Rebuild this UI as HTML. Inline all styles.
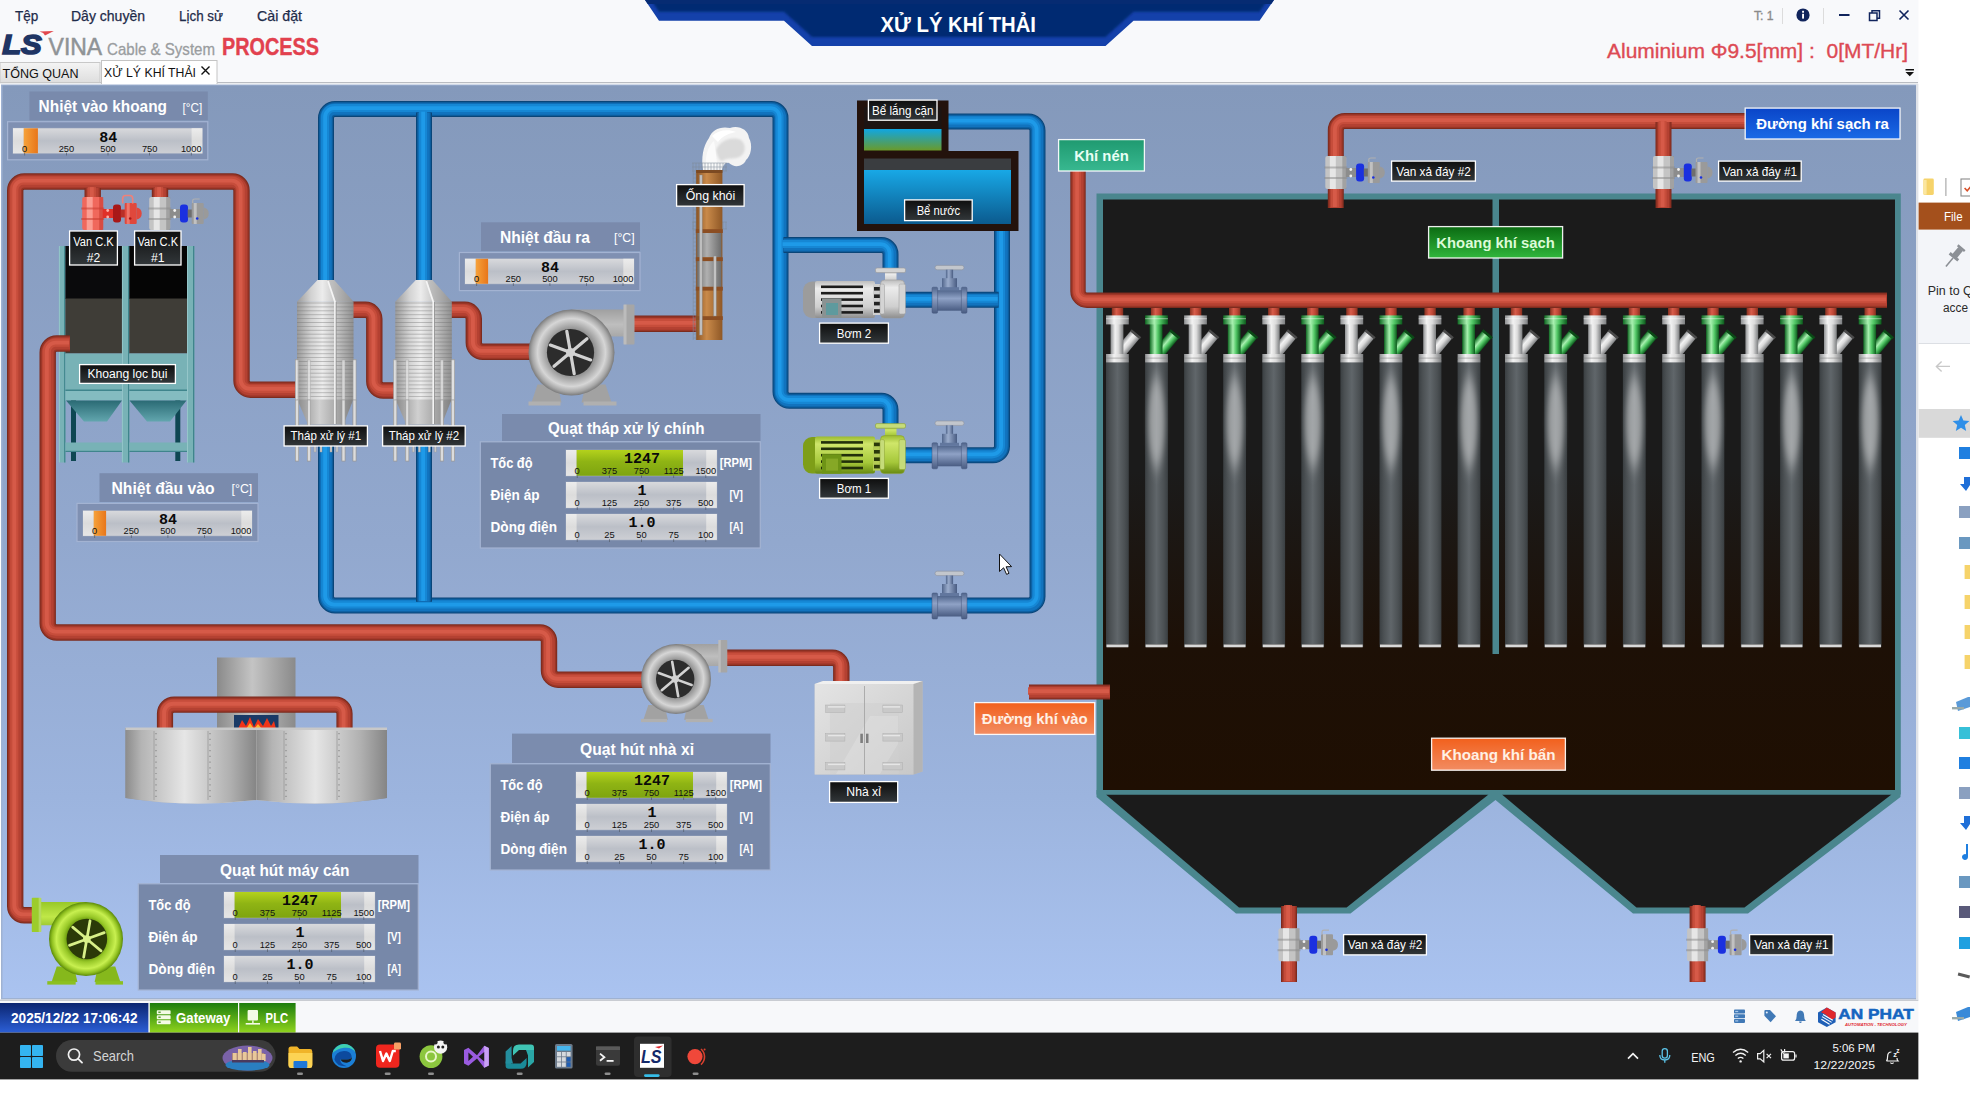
<!DOCTYPE html>
<html lang="vi"><head><meta charset="utf-8"><title>XỬ LÝ KHÍ THẢI</title>
<style>
html,body{margin:0;padding:0;background:#ffffff;width:1970px;height:1096px;overflow:hidden}
svg{display:block;position:absolute;left:0;top:0}
text{font-family:"Liberation Sans",sans-serif}
.m{font-family:"Liberation Mono",monospace;font-weight:bold}
.b{font-weight:bold}
</style></head><body>
<svg width="1970" height="1096" viewBox="0 0 1970 1096">
<defs>

<linearGradient id="gBg" x1="0" y1="0" x2="0" y2="1"><stop offset="0" stop-color="#8499bb"/><stop offset="0.5" stop-color="#92a8ce"/><stop offset="0.78" stop-color="#9cb4de"/><stop offset="1" stop-color="#aac3f0"/></linearGradient>
<linearGradient id="gLbl" x1="0" y1="0" x2="0" y2="1"><stop offset="0" stop-color="#0e0e0e"/><stop offset="1" stop-color="#32373a"/></linearGradient>
<linearGradient id="gSilver" x1="0" y1="0" x2="1" y2="0"><stop offset="0" stop-color="#9a9a9a"/><stop offset="0.25" stop-color="#d2d2d2"/><stop offset="0.45" stop-color="#ececec"/><stop offset="0.7" stop-color="#c4c4c4"/><stop offset="1" stop-color="#8f8f8f"/></linearGradient>
<linearGradient id="gSilverD" x1="0" y1="0" x2="1" y2="0"><stop offset="0" stop-color="#8a8a8a"/><stop offset="0.4" stop-color="#d0d0d0"/><stop offset="1" stop-color="#808080"/></linearGradient>
<linearGradient id="gGauge" x1="0" y1="0" x2="0" y2="1"><stop offset="0" stop-color="#d8d9dc"/><stop offset="0.5" stop-color="#bbbfc7"/><stop offset="1" stop-color="#cdcfd4"/></linearGradient>
<linearGradient id="gGaugeCap" x1="0" y1="0" x2="0" y2="1"><stop offset="0" stop-color="#ececec"/><stop offset="0.5" stop-color="#dcdcdc"/><stop offset="1" stop-color="#e6e6e6"/></linearGradient>
<linearGradient id="gGreenBar" x1="0" y1="0" x2="0" y2="1"><stop offset="0" stop-color="#b4d21c"/><stop offset="0.45" stop-color="#8fb414"/><stop offset="1" stop-color="#7ea410"/></linearGradient>
<linearGradient id="gOrangeBar" x1="0" y1="0" x2="1" y2="0"><stop offset="0" stop-color="#f6a23a"/><stop offset="1" stop-color="#e8761a"/></linearGradient>
<linearGradient id="gBag" x1="0" y1="0" x2="1" y2="0"><stop offset="0" stop-color="#3a3f42"/><stop offset="0.18" stop-color="#4b5053"/><stop offset="0.5" stop-color="#60666a"/><stop offset="0.82" stop-color="#4b5053"/><stop offset="1" stop-color="#3a3f42"/></linearGradient>
<linearGradient id="gBagV" x1="0" y1="0" x2="0" y2="1"><stop offset="0" stop-color="#fff" stop-opacity="0"/><stop offset="0.12" stop-color="#fff" stop-opacity="0.55"/><stop offset="0.45" stop-color="#fff" stop-opacity="0.75"/><stop offset="0.85" stop-color="#fff" stop-opacity="0.25"/><stop offset="1" stop-color="#fff" stop-opacity="0"/></linearGradient>
<linearGradient id="gBagH" x1="0" y1="0" x2="1" y2="0"><stop offset="0" stop-color="#000" stop-opacity="1"/><stop offset="0.5" stop-color="#000" stop-opacity="0"/><stop offset="1" stop-color="#000" stop-opacity="1"/></linearGradient>
<linearGradient id="gPipeW" x1="0" y1="0" x2="1" y2="0"><stop offset="0" stop-color="#8e9092"/><stop offset="0.35" stop-color="#f2f2f2"/><stop offset="0.6" stop-color="#dcdcdc"/><stop offset="1" stop-color="#7c7e80"/></linearGradient>
<linearGradient id="gPipeG" x1="0" y1="0" x2="1" y2="0"><stop offset="0" stop-color="#0f6a22"/><stop offset="0.4" stop-color="#a8f0b0"/><stop offset="0.65" stop-color="#52c866"/><stop offset="1" stop-color="#0c5a1c"/></linearGradient>
<linearGradient id="gRedV" x1="0" y1="0" x2="1" y2="0"><stop offset="0" stop-color="#86301f"/><stop offset="0.4" stop-color="#d85c4a"/><stop offset="0.7" stop-color="#bf4736"/><stop offset="1" stop-color="#86301f"/></linearGradient>
<linearGradient id="gBox" x1="0" y1="0" x2="0" y2="1"><stop offset="0" stop-color="#1b1b1b"/><stop offset="0.46" stop-color="#1b1b1b"/><stop offset="0.76" stop-color="#1d1006"/><stop offset="1" stop-color="#1f0f02"/></linearGradient>
<linearGradient id="gBlueLbl" x1="0" y1="0" x2="0" y2="1"><stop offset="0" stop-color="#0a45c8"/><stop offset="1" stop-color="#1a6ae6"/></linearGradient>
<linearGradient id="gGreenLbl" x1="0" y1="0" x2="0" y2="1"><stop offset="0" stop-color="#0b6a12"/><stop offset="1" stop-color="#30b63c"/></linearGradient>
<linearGradient id="gTealLbl" x1="0" y1="0" x2="0" y2="1"><stop offset="0" stop-color="#1f9a70"/><stop offset="1" stop-color="#38b890"/></linearGradient>
<linearGradient id="gOrLbl" x1="0" y1="0" x2="0" y2="1"><stop offset="0" stop-color="#f2601c"/><stop offset="1" stop-color="#f28c62"/></linearGradient>
<linearGradient id="gDate" x1="0" y1="0" x2="0" y2="1"><stop offset="0" stop-color="#0b2570"/><stop offset="1" stop-color="#2c5fd6"/></linearGradient>
<linearGradient id="gGw" x1="0" y1="0" x2="0" y2="1"><stop offset="0" stop-color="#1c7c0e"/><stop offset="1" stop-color="#90d41e"/></linearGradient>
<linearGradient id="gTab" x1="0" y1="0" x2="0" y2="1"><stop offset="0" stop-color="#f4f4f4"/><stop offset="1" stop-color="#dedede"/></linearGradient>
<radialGradient id="gFan" cx="0.5" cy="0.5" r="0.5"><stop offset="0" stop-color="#7c7c7c"/><stop offset="0.52" stop-color="#8c8c8c"/><stop offset="0.62" stop-color="#a8a8a8"/><stop offset="0.79" stop-color="#d6d6d6"/><stop offset="0.92" stop-color="#a6a6a6"/><stop offset="1" stop-color="#7a7a7a"/></radialGradient>
<radialGradient id="gFanG" cx="0.5" cy="0.5" r="0.5"><stop offset="0" stop-color="#5c8a0a"/><stop offset="0.52" stop-color="#6c9c10"/><stop offset="0.62" stop-color="#98c828"/><stop offset="0.8" stop-color="#c8f050"/><stop offset="0.92" stop-color="#90c020"/><stop offset="1" stop-color="#5a880a"/></radialGradient>
<linearGradient id="gDuct" x1="0" y1="0" x2="0" y2="1"><stop offset="0" stop-color="#a0a0a0"/><stop offset="0.35" stop-color="#bebebe"/><stop offset="1" stop-color="#8a8a8a"/></linearGradient>
<linearGradient id="gDuctG" x1="0" y1="0" x2="0" y2="1"><stop offset="0" stop-color="#98c828"/><stop offset="0.4" stop-color="#c0e848"/><stop offset="1" stop-color="#6a9a10"/></linearGradient>
<linearGradient id="gMotor" x1="0" y1="0" x2="0" y2="1"><stop offset="0" stop-color="#bdbdbd"/><stop offset="0.2" stop-color="#ececec"/><stop offset="0.7" stop-color="#cfcfcf"/><stop offset="1" stop-color="#8e8e8e"/></linearGradient>
<linearGradient id="gMotorG" x1="0" y1="0" x2="0" y2="1"><stop offset="0" stop-color="#9cbc30"/><stop offset="0.2" stop-color="#cfe66a"/><stop offset="0.7" stop-color="#a6c83a"/><stop offset="1" stop-color="#688a12"/></linearGradient>
<linearGradient id="gValve" x1="0" y1="0" x2="0" y2="1"><stop offset="0" stop-color="#51668c"/><stop offset="0.4" stop-color="#8fa2c6"/><stop offset="1" stop-color="#495c82"/></linearGradient>
<linearGradient id="gValveH" x1="0" y1="0" x2="1" y2="0"><stop offset="0" stop-color="#51668c"/><stop offset="0.4" stop-color="#9aaccc"/><stop offset="1" stop-color="#495c82"/></linearGradient>
<linearGradient id="gChim" x1="0" y1="0" x2="1" y2="0"><stop offset="0" stop-color="#8a5424"/><stop offset="0.4" stop-color="#c98a4a"/><stop offset="1" stop-color="#8f5826"/></linearGradient>
<linearGradient id="gChimG" x1="0" y1="0" x2="1" y2="0"><stop offset="0" stop-color="#707070"/><stop offset="0.4" stop-color="#b0b0b0"/><stop offset="1" stop-color="#6c6c6c"/></linearGradient>
<linearGradient id="gWater" x1="0" y1="0" x2="0" y2="1"><stop offset="0" stop-color="#18a8e6"/><stop offset="1" stop-color="#0b5a8e"/></linearGradient>
<linearGradient id="gWater2" x1="0" y1="0" x2="0" y2="1"><stop offset="0" stop-color="#10a6e2"/><stop offset="1" stop-color="#6a9a2a"/></linearGradient>
<linearGradient id="gDrum" x1="0" y1="0" x2="1" y2="0"><stop offset="0" stop-color="#8c8c8c"/><stop offset="0.12" stop-color="#b4b4b4"/><stop offset="0.45" stop-color="#e6e6e6"/><stop offset="0.8" stop-color="#b0b0b0"/><stop offset="1" stop-color="#858585"/></linearGradient>
<linearGradient id="gCyl" x1="0" y1="0" x2="1" y2="0"><stop offset="0" stop-color="#8a8a8a"/><stop offset="0.45" stop-color="#c4c4c4"/><stop offset="1" stop-color="#8a8a8a"/></linearGradient>
<linearGradient id="gHop" x1="0" y1="0" x2="0" y2="1"><stop offset="0" stop-color="#2a6a74"/><stop offset="1" stop-color="#62a6ae"/></linearGradient>
<linearGradient id="gCab" x1="0" y1="0" x2="1" y2="1"><stop offset="0" stop-color="#e4e4e4"/><stop offset="1" stop-color="#c8c8c8"/></linearGradient>
<linearGradient id="gTitle" x1="0" y1="0" x2="0" y2="1"><stop offset="0" stop-color="#082a72"/><stop offset="1" stop-color="#0a2f80"/></linearGradient>
<filter id="fBlur05" x="-20%" y="-20%" width="140%" height="140%"><feGaussianBlur stdDeviation="0.7"/></filter>
<filter id="fBlur1" x="-20%" y="-20%" width="140%" height="140%"><feGaussianBlur stdDeviation="1.2"/></filter>
<filter id="fBlur3" x="-100%" y="-30%" width="300%" height="160%"><feGaussianBlur stdDeviation="2.6 9"/></filter>
<filter id="fBlur2" x="-30%" y="-30%" width="160%" height="160%"><feGaussianBlur stdDeviation="2.5"/></filter>

</defs>
<!-- p10_chrome -->
<rect x="0.0" y="0.0" width="1918.6" height="84.0" fill="#f8f9fb" />
<rect x="0.0" y="82.0" width="1918.0" height="1.2" fill="#b9bcc2" />
<text x="15.0" y="21.0" font-size="14.5" fill="#1e2b4a" text-anchor="start" textLength="23.3" lengthAdjust="spacingAndGlyphs" stroke="#1e2b4a" stroke-width="0.25">Tệp</text>
<text x="71.0" y="21.0" font-size="14.5" fill="#1e2b4a" text-anchor="start" textLength="74.0" lengthAdjust="spacingAndGlyphs" stroke="#1e2b4a" stroke-width="0.25">Dây chuyền</text>
<text x="179.0" y="21.0" font-size="14.5" fill="#1e2b4a" text-anchor="start" textLength="44.0" lengthAdjust="spacingAndGlyphs" stroke="#1e2b4a" stroke-width="0.25">Lịch sử</text>
<text x="257.0" y="21.0" font-size="14.5" fill="#1e2b4a" text-anchor="start" textLength="45.0" lengthAdjust="spacingAndGlyphs" stroke="#1e2b4a" stroke-width="0.25">Cài đặt</text>
<clipPath id="cpTitle"><path d="M645,0 L1274,0 L1259.5,20.8 L1133.5,20.8 L1105.5,46 L812,46 L784,20.8 L659,20.8 Z"/></clipPath>
<path d="M645,0 L1274,0 L1259.5,20.8 L1133.5,20.8 L1105.5,46 L812,46 L784,20.8 L659,20.8 Z" fill="#1441aa"/>
<g clip-path="url(#cpTitle)"><path d="M645,0 L1274,0 L1259.5,20.8 L1133.5,20.8 L1105.5,46 L812,46 L784,20.8 L659,20.8 Z" fill="#062b72" transform="translate(0,-9)" filter="url(#fBlur1)"/><rect x="640" y="-4" width="640" height="8" fill="#062b72"/></g>
<text x="880.5" y="32.3" font-size="22" fill="#ffffff" text-anchor="start" textLength="155.5" lengthAdjust="spacingAndGlyphs" class="b" >XỬ LÝ KHÍ THẢI</text>
<g transform="translate(0,0)">
<text x="2.2" y="54.4" font-size="28.5" font-weight="bold" font-style="italic" fill="#1f3564" stroke="#1f3564" stroke-width="1.7" stroke-linejoin="miter" textLength="39.5" lengthAdjust="spacingAndGlyphs">LS</text>
<path d="M39.5,31.4 L53.8,31 L45,35.6 L43.2,33 Z" fill="#e2474c"/>
<text x="48.6" y="55.2" font-size="23.6" fill="#8f9396" stroke="#8f9396" stroke-width="0.5" textLength="53.6" lengthAdjust="spacingAndGlyphs">VINA</text>
<text x="107" y="55.2" font-size="17" fill="#9a9d9f" stroke="#9a9d9f" stroke-width="0.3" textLength="108" lengthAdjust="spacingAndGlyphs">Cable &amp; System</text>
<text x="222" y="55" font-size="24" font-weight="bold" fill="#e2414e" stroke="#e2414e" stroke-width="0.4" textLength="97" lengthAdjust="spacingAndGlyphs">PROCESS</text>
</g>
<rect x="0.0" y="62.5" width="100.0" height="20.0" fill="url(#gTab)" stroke="#c8c8c8" stroke-width="1"/>
<text x="2.5" y="78.0" font-size="13.5" fill="#111" text-anchor="start" textLength="76.0" lengthAdjust="spacingAndGlyphs" >TỔNG QUAN</text>
<rect x="101.5" y="60.5" width="115.5" height="23.0" fill="#ffffff" stroke="#c4c4c4" stroke-width="1"/>
<rect x="102.0" y="82.0" width="114.5" height="2.0" fill="#ffffff" />
<text x="104.0" y="77.0" font-size="13.5" fill="#111" text-anchor="start" textLength="92.0" lengthAdjust="spacingAndGlyphs" >XỬ LÝ KHÍ THẢI</text>
<path d="M201.5,66.5 L209.5,74.5 M209.5,66.5 L201.5,74.5" stroke="#111" stroke-width="1.4" fill="none"/>
<text x="1754.0" y="20.3" font-size="12.5" fill="#8a8a8a" text-anchor="start" textLength="19.5" lengthAdjust="spacingAndGlyphs" stroke="#8a8a8a" stroke-width="0.35">T: 1</text>
<rect x="1782.0" y="8.0" width="1.0" height="16.0" fill="#dcdcdc" />
<circle cx="1803" cy="15" r="6.6" fill="#10245c"/><rect x="1802.1" y="13.8" width="1.9" height="4.8" fill="#fff"/><rect x="1802.1" y="10.8" width="1.9" height="1.9" fill="#fff"/>
<rect x="1823.0" y="8.0" width="1.0" height="16.0" fill="#dcdcdc" />
<rect x="1839.0" y="14.0" width="10.5" height="2.0" fill="#10245c" />
<path d="M1869.5,13 h7.5 v7.5 h-7.5 z M1872,13 v-2.3 h7.5 v7.5 h-2.3" fill="none" stroke="#10245c" stroke-width="1.5"/>
<path d="M1899.5,10.5 L1908.5,19.5 M1908.5,10.5 L1899.5,19.5" stroke="#10245c" stroke-width="1.6" fill="none"/>
<text x="1607.0" y="58.3" font-size="20" fill="#dd4a54" text-anchor="start" textLength="301.0" lengthAdjust="spacingAndGlyphs" stroke="#dd4a54" stroke-width="0.35" xml:space="preserve">Aluminium Φ9.5[mm] :  0[MT/Hr]</text>
<path d="M1905.5,69 h8.5 v1.6 h-8.5 z M1905.5,72 h8.5 l-4.25,4.2 z" fill="#111"/>
<!-- p20_canvas -->
<rect x="1.0" y="84.5" width="1916.5" height="915.0" fill="#9fb2d2" />
<rect x="2.5" y="85.5" width="1913.5" height="912.5" fill="url(#gBg)" />
<rect x="0.0" y="999.5" width="1918.6" height="1.5" fill="#c9ccd2" />
<rect x="1916.0" y="84.0" width="2.6" height="916.0" fill="#dfe2e8" />
<!-- p25_back -->
<rect x="71.0" y="400.0" width="5.0" height="61.0" fill="#0e4652" />
<rect x="175.3" y="400.0" width="5.0" height="61.0" fill="#0e4652" />
<rect x="58.9" y="246.0" width="6.5" height="216.5" fill="#78b2b6" />
<rect x="64.1" y="246.0" width="1.3" height="216.5" fill="#3f858c" />
<rect x="58.9" y="246.0" width="1.0" height="216.5" fill="#9ccace" opacity="0.8"/>
<rect x="121.9" y="246.0" width="7.4" height="216.5" fill="#78b2b6" />
<rect x="128.0" y="246.0" width="1.3" height="216.5" fill="#3f858c" />
<rect x="121.9" y="246.0" width="1.0" height="216.5" fill="#9ccace" opacity="0.8"/>
<rect x="187.0" y="246.0" width="7.3" height="216.5" fill="#78b2b6" />
<rect x="193.0" y="246.0" width="1.3" height="216.5" fill="#3f858c" />
<rect x="187.0" y="246.0" width="1.0" height="216.5" fill="#9ccace" opacity="0.8"/>
<rect x="65.4" y="246.0" width="56.5" height="53.0" fill="#0a0a0c" />
<rect x="129.3" y="246.0" width="57.7" height="53.0" fill="#050505" />
<rect x="65.4" y="298.5" width="56.5" height="55.0" fill="#3f3d37" />
<rect x="129.3" y="298.5" width="57.7" height="55.0" fill="#3f3d37" />
<rect x="65.4" y="353.5" width="56.5" height="37.5" fill="#78b2b6" />
<rect x="129.3" y="353.5" width="57.7" height="37.5" fill="#78b2b6" />
<rect x="65.4" y="389.5" width="56.5" height="1.5" fill="#3f858c" />
<rect x="129.3" y="389.5" width="57.7" height="1.5" fill="#3f858c" />
<rect x="65.4" y="391.0" width="56.5" height="9.5" fill="#84bcc0" />
<rect x="129.3" y="391.0" width="57.7" height="9.5" fill="#84bcc0" />
<path d="M66,400.5 L122,400.5 L107,421.5 L84,421.5 Z" fill="url(#gHop)"/>
<path d="M129.5,400.5 L186.5,400.5 L170,421.5 L147,421.5 Z" fill="url(#gHop)"/>
<rect x="65.4" y="442.5" width="56.5" height="9.5" fill="#78b2b6" />
<rect x="129.3" y="442.5" width="57.7" height="9.5" fill="#78b2b6" />
<rect x="65.4" y="450.8" width="56.5" height="1.2" fill="#3f858c" />
<rect x="129.3" y="450.8" width="57.7" height="1.2" fill="#3f858c" />
<!-- p30_pipes -->
<path d="M326.0,283.0 L326.0,118.0 A9.0,9.0 0 0 1 335.0,109.0 L771.5,109.0 A9.0,9.0 0 0 1 780.5,118.0 L780.5,391.8 A9.0,9.0 0 0 0 789.5,400.8 L881.5,400.8 A9.0,9.0 0 0 1 890.5,409.8 L890.5,426.0" fill="none" stroke="#0a4578" stroke-width="16.0" stroke-linecap="butt" stroke-linejoin="round"/>
<path d="M326.0,283.0 L326.0,118.0 A9.0,9.0 0 0 1 335.0,109.0 L771.5,109.0 A9.0,9.0 0 0 1 780.5,118.0 L780.5,391.8 A9.0,9.0 0 0 0 789.5,400.8 L881.5,400.8 A9.0,9.0 0 0 1 890.5,409.8 L890.5,426.0" fill="none" stroke="#0c5c9c" stroke-width="14.1" stroke-linecap="butt" stroke-linejoin="round"/>
<path d="M326.0,283.0 L326.0,118.0 A9.0,9.0 0 0 1 335.0,109.0 L771.5,109.0 A9.0,9.0 0 0 1 780.5,118.0 L780.5,391.8 A9.0,9.0 0 0 0 789.5,400.8 L881.5,400.8 A9.0,9.0 0 0 1 890.5,409.8 L890.5,426.0" fill="none" stroke="#1173be" stroke-width="11.5" stroke-linecap="butt" stroke-linejoin="round"/>
<path d="M326.0,283.0 L326.0,118.0 A9.0,9.0 0 0 1 335.0,109.0 L771.5,109.0 A9.0,9.0 0 0 1 780.5,118.0 L780.5,391.8 A9.0,9.0 0 0 0 789.5,400.8 L881.5,400.8 A9.0,9.0 0 0 1 890.5,409.8 L890.5,426.0" fill="none" stroke="#1687d4" stroke-width="8.0" stroke-linecap="butt" stroke-linejoin="round" transform="translate(-0.9,-0.9)"/>
<path d="M326.0,283.0 L326.0,118.0 A9.0,9.0 0 0 1 335.0,109.0 L771.5,109.0 A9.0,9.0 0 0 1 780.5,118.0 L780.5,391.8 A9.0,9.0 0 0 0 789.5,400.8 L881.5,400.8 A9.0,9.0 0 0 1 890.5,409.8 L890.5,426.0" fill="none" stroke="#1e9ae8" stroke-width="3.8" stroke-linecap="butt" stroke-linejoin="round" transform="translate(-0.9,-0.9)"/>
<path d="M424.0,283.0 L424.0,112.6" fill="none" stroke="#0a4578" stroke-width="16.0" stroke-linecap="butt" stroke-linejoin="round"/>
<path d="M424.0,283.0 L424.0,112.6" fill="none" stroke="#0c5c9c" stroke-width="14.1" stroke-linecap="butt" stroke-linejoin="round"/>
<path d="M424.0,283.0 L424.0,112.6" fill="none" stroke="#1173be" stroke-width="11.5" stroke-linecap="butt" stroke-linejoin="round"/>
<path d="M424.0,283.0 L424.0,112.6" fill="none" stroke="#1687d4" stroke-width="8.0" stroke-linecap="butt" stroke-linejoin="round" transform="translate(-0.9,-0.9)"/>
<path d="M424.0,283.0 L424.0,112.6" fill="none" stroke="#1e9ae8" stroke-width="3.8" stroke-linecap="butt" stroke-linejoin="round" transform="translate(-0.9,-0.9)"/>
<path d="M783.5,245.0 L881.5,245.0 A9.0,9.0 0 0 1 890.5,254.0 L890.5,270.0" fill="none" stroke="#0a4578" stroke-width="16.0" stroke-linecap="butt" stroke-linejoin="round"/>
<path d="M783.5,245.0 L881.5,245.0 A9.0,9.0 0 0 1 890.5,254.0 L890.5,270.0" fill="none" stroke="#0c5c9c" stroke-width="14.1" stroke-linecap="butt" stroke-linejoin="round"/>
<path d="M783.5,245.0 L881.5,245.0 A9.0,9.0 0 0 1 890.5,254.0 L890.5,270.0" fill="none" stroke="#1173be" stroke-width="11.5" stroke-linecap="butt" stroke-linejoin="round"/>
<path d="M783.5,245.0 L881.5,245.0 A9.0,9.0 0 0 1 890.5,254.0 L890.5,270.0" fill="none" stroke="#1687d4" stroke-width="8.0" stroke-linecap="butt" stroke-linejoin="round" transform="translate(-0.9,-0.9)"/>
<path d="M783.5,245.0 L881.5,245.0 A9.0,9.0 0 0 1 890.5,254.0 L890.5,270.0" fill="none" stroke="#1e9ae8" stroke-width="3.8" stroke-linecap="butt" stroke-linejoin="round" transform="translate(-0.9,-0.9)"/>
<path d="M326.0,440.0 L326.0,596.5 A9.0,9.0 0 0 0 335.0,605.5 L1028.5,605.5 A9.0,9.0 0 0 0 1037.5,596.5 L1037.5,130.5 A9.0,9.0 0 0 0 1028.5,121.5 L946.0,121.5" fill="none" stroke="#0a4578" stroke-width="16.0" stroke-linecap="butt" stroke-linejoin="round"/>
<path d="M326.0,440.0 L326.0,596.5 A9.0,9.0 0 0 0 335.0,605.5 L1028.5,605.5 A9.0,9.0 0 0 0 1037.5,596.5 L1037.5,130.5 A9.0,9.0 0 0 0 1028.5,121.5 L946.0,121.5" fill="none" stroke="#0c5c9c" stroke-width="14.1" stroke-linecap="butt" stroke-linejoin="round"/>
<path d="M326.0,440.0 L326.0,596.5 A9.0,9.0 0 0 0 335.0,605.5 L1028.5,605.5 A9.0,9.0 0 0 0 1037.5,596.5 L1037.5,130.5 A9.0,9.0 0 0 0 1028.5,121.5 L946.0,121.5" fill="none" stroke="#1173be" stroke-width="11.5" stroke-linecap="butt" stroke-linejoin="round"/>
<path d="M326.0,440.0 L326.0,596.5 A9.0,9.0 0 0 0 335.0,605.5 L1028.5,605.5 A9.0,9.0 0 0 0 1037.5,596.5 L1037.5,130.5 A9.0,9.0 0 0 0 1028.5,121.5 L946.0,121.5" fill="none" stroke="#1687d4" stroke-width="8.0" stroke-linecap="butt" stroke-linejoin="round" transform="translate(-0.9,-0.9)"/>
<path d="M326.0,440.0 L326.0,596.5 A9.0,9.0 0 0 0 335.0,605.5 L1028.5,605.5 A9.0,9.0 0 0 0 1037.5,596.5 L1037.5,130.5 A9.0,9.0 0 0 0 1028.5,121.5 L946.0,121.5" fill="none" stroke="#1e9ae8" stroke-width="3.8" stroke-linecap="butt" stroke-linejoin="round" transform="translate(-0.9,-0.9)"/>
<path d="M424.0,440.0 L424.0,601.8" fill="none" stroke="#0a4578" stroke-width="16.0" stroke-linecap="butt" stroke-linejoin="round"/>
<path d="M424.0,440.0 L424.0,601.8" fill="none" stroke="#0c5c9c" stroke-width="14.1" stroke-linecap="butt" stroke-linejoin="round"/>
<path d="M424.0,440.0 L424.0,601.8" fill="none" stroke="#1173be" stroke-width="11.5" stroke-linecap="butt" stroke-linejoin="round"/>
<path d="M424.0,440.0 L424.0,601.8" fill="none" stroke="#1687d4" stroke-width="8.0" stroke-linecap="butt" stroke-linejoin="round" transform="translate(-0.9,-0.9)"/>
<path d="M424.0,440.0 L424.0,601.8" fill="none" stroke="#1e9ae8" stroke-width="3.8" stroke-linecap="butt" stroke-linejoin="round" transform="translate(-0.9,-0.9)"/>
<path d="M1002.0,222.0 L1002.0,446.3 A9.0,9.0 0 0 1 993.0,455.3 L903.0,455.3" fill="none" stroke="#0a4578" stroke-width="16.0" stroke-linecap="butt" stroke-linejoin="round"/>
<path d="M1002.0,222.0 L1002.0,446.3 A9.0,9.0 0 0 1 993.0,455.3 L903.0,455.3" fill="none" stroke="#0c5c9c" stroke-width="14.1" stroke-linecap="butt" stroke-linejoin="round"/>
<path d="M1002.0,222.0 L1002.0,446.3 A9.0,9.0 0 0 1 993.0,455.3 L903.0,455.3" fill="none" stroke="#1173be" stroke-width="11.5" stroke-linecap="butt" stroke-linejoin="round"/>
<path d="M1002.0,222.0 L1002.0,446.3 A9.0,9.0 0 0 1 993.0,455.3 L903.0,455.3" fill="none" stroke="#1687d4" stroke-width="8.0" stroke-linecap="butt" stroke-linejoin="round" transform="translate(-0.9,-0.9)"/>
<path d="M1002.0,222.0 L1002.0,446.3 A9.0,9.0 0 0 1 993.0,455.3 L903.0,455.3" fill="none" stroke="#1e9ae8" stroke-width="3.8" stroke-linecap="butt" stroke-linejoin="round" transform="translate(-0.9,-0.9)"/>
<path d="M903.0,299.7 L998.6,299.7" fill="none" stroke="#0a4578" stroke-width="16.0" stroke-linecap="butt" stroke-linejoin="round"/>
<path d="M903.0,299.7 L998.6,299.7" fill="none" stroke="#0c5c9c" stroke-width="14.1" stroke-linecap="butt" stroke-linejoin="round"/>
<path d="M903.0,299.7 L998.6,299.7" fill="none" stroke="#1173be" stroke-width="11.5" stroke-linecap="butt" stroke-linejoin="round"/>
<path d="M903.0,299.7 L998.6,299.7" fill="none" stroke="#1687d4" stroke-width="8.0" stroke-linecap="butt" stroke-linejoin="round" transform="translate(-0.9,-0.9)"/>
<path d="M903.0,299.7 L998.6,299.7" fill="none" stroke="#1e9ae8" stroke-width="3.8" stroke-linecap="butt" stroke-linejoin="round" transform="translate(-0.9,-0.9)"/>
<path d="M36.0,915.3 L24.2,915.3 A9.0,9.0 0 0 1 15.2,906.3 L15.2,190.5 A9.0,9.0 0 0 1 24.2,181.5 L232.5,181.5 A9.0,9.0 0 0 1 241.5,190.5 L241.5,380.7 A9.0,9.0 0 0 0 250.5,389.7 L298.0,389.7" fill="none" stroke="#7c2b1e" stroke-width="16.4" stroke-linecap="butt" stroke-linejoin="round"/>
<path d="M36.0,915.3 L24.2,915.3 A9.0,9.0 0 0 1 15.2,906.3 L15.2,190.5 A9.0,9.0 0 0 1 24.2,181.5 L232.5,181.5 A9.0,9.0 0 0 1 241.5,190.5 L241.5,380.7 A9.0,9.0 0 0 0 250.5,389.7 L298.0,389.7" fill="none" stroke="#983526" stroke-width="14.4" stroke-linecap="butt" stroke-linejoin="round"/>
<path d="M36.0,915.3 L24.2,915.3 A9.0,9.0 0 0 1 15.2,906.3 L15.2,190.5 A9.0,9.0 0 0 1 24.2,181.5 L232.5,181.5 A9.0,9.0 0 0 1 241.5,190.5 L241.5,380.7 A9.0,9.0 0 0 0 250.5,389.7 L298.0,389.7" fill="none" stroke="#b44132" stroke-width="11.8" stroke-linecap="butt" stroke-linejoin="round"/>
<path d="M36.0,915.3 L24.2,915.3 A9.0,9.0 0 0 1 15.2,906.3 L15.2,190.5 A9.0,9.0 0 0 1 24.2,181.5 L232.5,181.5 A9.0,9.0 0 0 1 241.5,190.5 L241.5,380.7 A9.0,9.0 0 0 0 250.5,389.7 L298.0,389.7" fill="none" stroke="#c64d3b" stroke-width="8.2" stroke-linecap="butt" stroke-linejoin="round" transform="translate(-0.9,-0.9)"/>
<path d="M36.0,915.3 L24.2,915.3 A9.0,9.0 0 0 1 15.2,906.3 L15.2,190.5 A9.0,9.0 0 0 1 24.2,181.5 L232.5,181.5 A9.0,9.0 0 0 1 241.5,190.5 L241.5,380.7 A9.0,9.0 0 0 0 250.5,389.7 L298.0,389.7" fill="none" stroke="#d65a48" stroke-width="3.9" stroke-linecap="butt" stroke-linejoin="round" transform="translate(-0.9,-0.9)"/>
<path d="M92.7,188.0 L92.7,200.0" fill="none" stroke="#7c2b1e" stroke-width="16.4" stroke-linecap="butt" stroke-linejoin="round"/>
<path d="M92.7,188.0 L92.7,200.0" fill="none" stroke="#983526" stroke-width="14.4" stroke-linecap="butt" stroke-linejoin="round"/>
<path d="M92.7,188.0 L92.7,200.0" fill="none" stroke="#b44132" stroke-width="11.8" stroke-linecap="butt" stroke-linejoin="round"/>
<path d="M92.7,188.0 L92.7,200.0" fill="none" stroke="#c64d3b" stroke-width="8.2" stroke-linecap="butt" stroke-linejoin="round" transform="translate(-0.9,-0.9)"/>
<path d="M92.7,188.0 L92.7,200.0" fill="none" stroke="#d65a48" stroke-width="3.9" stroke-linecap="butt" stroke-linejoin="round" transform="translate(-0.9,-0.9)"/>
<path d="M160.0,188.0 L160.0,200.0" fill="none" stroke="#7c2b1e" stroke-width="16.4" stroke-linecap="butt" stroke-linejoin="round"/>
<path d="M160.0,188.0 L160.0,200.0" fill="none" stroke="#983526" stroke-width="14.4" stroke-linecap="butt" stroke-linejoin="round"/>
<path d="M160.0,188.0 L160.0,200.0" fill="none" stroke="#b44132" stroke-width="11.8" stroke-linecap="butt" stroke-linejoin="round"/>
<path d="M160.0,188.0 L160.0,200.0" fill="none" stroke="#c64d3b" stroke-width="8.2" stroke-linecap="butt" stroke-linejoin="round" transform="translate(-0.9,-0.9)"/>
<path d="M160.0,188.0 L160.0,200.0" fill="none" stroke="#d65a48" stroke-width="3.9" stroke-linecap="butt" stroke-linejoin="round" transform="translate(-0.9,-0.9)"/>
<path d="M352.0,309.8 L365.3,309.8 A9.0,9.0 0 0 1 374.3,318.8 L374.3,381.5 A9.0,9.0 0 0 0 383.3,390.5 L397.0,390.5" fill="none" stroke="#7c2b1e" stroke-width="16.4" stroke-linecap="butt" stroke-linejoin="round"/>
<path d="M352.0,309.8 L365.3,309.8 A9.0,9.0 0 0 1 374.3,318.8 L374.3,381.5 A9.0,9.0 0 0 0 383.3,390.5 L397.0,390.5" fill="none" stroke="#983526" stroke-width="14.4" stroke-linecap="butt" stroke-linejoin="round"/>
<path d="M352.0,309.8 L365.3,309.8 A9.0,9.0 0 0 1 374.3,318.8 L374.3,381.5 A9.0,9.0 0 0 0 383.3,390.5 L397.0,390.5" fill="none" stroke="#b44132" stroke-width="11.8" stroke-linecap="butt" stroke-linejoin="round"/>
<path d="M352.0,309.8 L365.3,309.8 A9.0,9.0 0 0 1 374.3,318.8 L374.3,381.5 A9.0,9.0 0 0 0 383.3,390.5 L397.0,390.5" fill="none" stroke="#c64d3b" stroke-width="8.2" stroke-linecap="butt" stroke-linejoin="round" transform="translate(-0.9,-0.9)"/>
<path d="M352.0,309.8 L365.3,309.8 A9.0,9.0 0 0 1 374.3,318.8 L374.3,381.5 A9.0,9.0 0 0 0 383.3,390.5 L397.0,390.5" fill="none" stroke="#d65a48" stroke-width="3.9" stroke-linecap="butt" stroke-linejoin="round" transform="translate(-0.9,-0.9)"/>
<path d="M450.0,309.8 L464.8,309.8 A9.0,9.0 0 0 1 473.8,318.8 L473.8,342.8 A9.0,9.0 0 0 0 482.8,351.8 L532.0,351.8" fill="none" stroke="#7c2b1e" stroke-width="16.4" stroke-linecap="butt" stroke-linejoin="round"/>
<path d="M450.0,309.8 L464.8,309.8 A9.0,9.0 0 0 1 473.8,318.8 L473.8,342.8 A9.0,9.0 0 0 0 482.8,351.8 L532.0,351.8" fill="none" stroke="#983526" stroke-width="14.4" stroke-linecap="butt" stroke-linejoin="round"/>
<path d="M450.0,309.8 L464.8,309.8 A9.0,9.0 0 0 1 473.8,318.8 L473.8,342.8 A9.0,9.0 0 0 0 482.8,351.8 L532.0,351.8" fill="none" stroke="#b44132" stroke-width="11.8" stroke-linecap="butt" stroke-linejoin="round"/>
<path d="M450.0,309.8 L464.8,309.8 A9.0,9.0 0 0 1 473.8,318.8 L473.8,342.8 A9.0,9.0 0 0 0 482.8,351.8 L532.0,351.8" fill="none" stroke="#c64d3b" stroke-width="8.2" stroke-linecap="butt" stroke-linejoin="round" transform="translate(-0.9,-0.9)"/>
<path d="M450.0,309.8 L464.8,309.8 A9.0,9.0 0 0 1 473.8,318.8 L473.8,342.8 A9.0,9.0 0 0 0 482.8,351.8 L532.0,351.8" fill="none" stroke="#d65a48" stroke-width="3.9" stroke-linecap="butt" stroke-linejoin="round" transform="translate(-0.9,-0.9)"/>
<path d="M632.0,323.8 L699.0,323.8" fill="none" stroke="#7c2b1e" stroke-width="16.4" stroke-linecap="butt" stroke-linejoin="round"/>
<path d="M632.0,323.8 L699.0,323.8" fill="none" stroke="#983526" stroke-width="14.4" stroke-linecap="butt" stroke-linejoin="round"/>
<path d="M632.0,323.8 L699.0,323.8" fill="none" stroke="#b44132" stroke-width="11.8" stroke-linecap="butt" stroke-linejoin="round"/>
<path d="M632.0,323.8 L699.0,323.8" fill="none" stroke="#c64d3b" stroke-width="8.2" stroke-linecap="butt" stroke-linejoin="round" transform="translate(-0.9,-0.9)"/>
<path d="M632.0,323.8 L699.0,323.8" fill="none" stroke="#d65a48" stroke-width="3.9" stroke-linecap="butt" stroke-linejoin="round" transform="translate(-0.9,-0.9)"/>
<path d="M70.0,343.5 L56.7,343.5 A9.0,9.0 0 0 0 47.7,352.5 L47.7,623.5 A9.0,9.0 0 0 0 56.7,632.5 L540.0,632.5 A9.0,9.0 0 0 1 549.0,641.5 L549.0,670.7 A9.0,9.0 0 0 0 558.0,679.7 L646.0,679.7" fill="none" stroke="#7c2b1e" stroke-width="16.4" stroke-linecap="butt" stroke-linejoin="round"/>
<path d="M70.0,343.5 L56.7,343.5 A9.0,9.0 0 0 0 47.7,352.5 L47.7,623.5 A9.0,9.0 0 0 0 56.7,632.5 L540.0,632.5 A9.0,9.0 0 0 1 549.0,641.5 L549.0,670.7 A9.0,9.0 0 0 0 558.0,679.7 L646.0,679.7" fill="none" stroke="#983526" stroke-width="14.4" stroke-linecap="butt" stroke-linejoin="round"/>
<path d="M70.0,343.5 L56.7,343.5 A9.0,9.0 0 0 0 47.7,352.5 L47.7,623.5 A9.0,9.0 0 0 0 56.7,632.5 L540.0,632.5 A9.0,9.0 0 0 1 549.0,641.5 L549.0,670.7 A9.0,9.0 0 0 0 558.0,679.7 L646.0,679.7" fill="none" stroke="#b44132" stroke-width="11.8" stroke-linecap="butt" stroke-linejoin="round"/>
<path d="M70.0,343.5 L56.7,343.5 A9.0,9.0 0 0 0 47.7,352.5 L47.7,623.5 A9.0,9.0 0 0 0 56.7,632.5 L540.0,632.5 A9.0,9.0 0 0 1 549.0,641.5 L549.0,670.7 A9.0,9.0 0 0 0 558.0,679.7 L646.0,679.7" fill="none" stroke="#c64d3b" stroke-width="8.2" stroke-linecap="butt" stroke-linejoin="round" transform="translate(-0.9,-0.9)"/>
<path d="M70.0,343.5 L56.7,343.5 A9.0,9.0 0 0 0 47.7,352.5 L47.7,623.5 A9.0,9.0 0 0 0 56.7,632.5 L540.0,632.5 A9.0,9.0 0 0 1 549.0,641.5 L549.0,670.7 A9.0,9.0 0 0 0 558.0,679.7 L646.0,679.7" fill="none" stroke="#d65a48" stroke-width="3.9" stroke-linecap="butt" stroke-linejoin="round" transform="translate(-0.9,-0.9)"/>
<path d="M726.0,657.7 L832.3,657.7 A9.0,9.0 0 0 1 841.3,666.7 L841.3,684.0" fill="none" stroke="#7c2b1e" stroke-width="16.4" stroke-linecap="butt" stroke-linejoin="round"/>
<path d="M726.0,657.7 L832.3,657.7 A9.0,9.0 0 0 1 841.3,666.7 L841.3,684.0" fill="none" stroke="#983526" stroke-width="14.4" stroke-linecap="butt" stroke-linejoin="round"/>
<path d="M726.0,657.7 L832.3,657.7 A9.0,9.0 0 0 1 841.3,666.7 L841.3,684.0" fill="none" stroke="#b44132" stroke-width="11.8" stroke-linecap="butt" stroke-linejoin="round"/>
<path d="M726.0,657.7 L832.3,657.7 A9.0,9.0 0 0 1 841.3,666.7 L841.3,684.0" fill="none" stroke="#c64d3b" stroke-width="8.2" stroke-linecap="butt" stroke-linejoin="round" transform="translate(-0.9,-0.9)"/>
<path d="M726.0,657.7 L832.3,657.7 A9.0,9.0 0 0 1 841.3,666.7 L841.3,684.0" fill="none" stroke="#d65a48" stroke-width="3.9" stroke-linecap="butt" stroke-linejoin="round" transform="translate(-0.9,-0.9)"/>
<!-- p40_equip -->
<rect x="295.5" y="359.5" width="3.0" height="101.5" fill="#d9d9d9" stroke="#9a9a9a" stroke-width="0.6"/>
<rect x="307.5" y="359.5" width="3.0" height="101.5" fill="#d9d9d9" stroke="#9a9a9a" stroke-width="0.6"/>
<rect x="342.0" y="359.5" width="3.0" height="101.5" fill="#d9d9d9" stroke="#9a9a9a" stroke-width="0.6"/>
<rect x="353.0" y="359.5" width="3.0" height="101.5" fill="#d9d9d9" stroke="#9a9a9a" stroke-width="0.6"/>
<rect x="314.0" y="425.0" width="2.0" height="27.0" fill="#c8c8c8" stroke="#9a9a9a" stroke-width="0.4"/>
<rect x="320.0" y="425.0" width="2.0" height="27.0" fill="#c8c8c8" stroke="#9a9a9a" stroke-width="0.4"/>
<rect x="330.0" y="425.0" width="2.0" height="27.0" fill="#c8c8c8" stroke="#9a9a9a" stroke-width="0.4"/>
<rect x="336.0" y="425.0" width="2.0" height="27.0" fill="#c8c8c8" stroke="#9a9a9a" stroke-width="0.4"/>
<path d="M297,399 L353.5,399 L343.5,424.5 L308,424.5 Z" fill="url(#gSilverD)"/>
<path d="M300,424.5 L350.5,424.5 L350.5,428 L300,428 Z" fill="#b8b8b8" opacity="0.8"/>
<rect x="297.0" y="301.5" width="56.5" height="98.0" fill="url(#gSilver)" />
<line x1="297" y1="303.0" x2="353.5" y2="303.0" stroke="#6e6e6e" stroke-width="0.7" opacity="0.55"/>
<line x1="297" y1="306.9" x2="353.5" y2="306.9" stroke="#6e6e6e" stroke-width="0.7" opacity="0.55"/>
<line x1="297" y1="310.8" x2="353.5" y2="310.8" stroke="#6e6e6e" stroke-width="0.7" opacity="0.55"/>
<line x1="297" y1="314.7" x2="353.5" y2="314.7" stroke="#6e6e6e" stroke-width="0.7" opacity="0.55"/>
<line x1="297" y1="318.6" x2="353.5" y2="318.6" stroke="#6e6e6e" stroke-width="0.7" opacity="0.55"/>
<line x1="297" y1="322.5" x2="353.5" y2="322.5" stroke="#6e6e6e" stroke-width="0.7" opacity="0.55"/>
<line x1="297" y1="326.4" x2="353.5" y2="326.4" stroke="#6e6e6e" stroke-width="0.7" opacity="0.55"/>
<line x1="297" y1="330.3" x2="353.5" y2="330.3" stroke="#6e6e6e" stroke-width="0.7" opacity="0.55"/>
<line x1="297" y1="334.2" x2="353.5" y2="334.2" stroke="#6e6e6e" stroke-width="0.7" opacity="0.55"/>
<line x1="297" y1="338.1" x2="353.5" y2="338.1" stroke="#6e6e6e" stroke-width="0.7" opacity="0.55"/>
<line x1="297" y1="342.0" x2="353.5" y2="342.0" stroke="#6e6e6e" stroke-width="0.7" opacity="0.55"/>
<line x1="297" y1="345.9" x2="353.5" y2="345.9" stroke="#6e6e6e" stroke-width="0.7" opacity="0.55"/>
<line x1="297" y1="349.8" x2="353.5" y2="349.8" stroke="#6e6e6e" stroke-width="0.7" opacity="0.55"/>
<line x1="297" y1="353.7" x2="353.5" y2="353.7" stroke="#6e6e6e" stroke-width="0.7" opacity="0.55"/>
<line x1="297" y1="357.6" x2="353.5" y2="357.6" stroke="#6e6e6e" stroke-width="0.7" opacity="0.55"/>
<line x1="297" y1="361.5" x2="353.5" y2="361.5" stroke="#6e6e6e" stroke-width="0.7" opacity="0.55"/>
<line x1="297" y1="365.4" x2="353.5" y2="365.4" stroke="#6e6e6e" stroke-width="0.7" opacity="0.55"/>
<line x1="297" y1="369.3" x2="353.5" y2="369.3" stroke="#6e6e6e" stroke-width="0.7" opacity="0.55"/>
<line x1="297" y1="373.2" x2="353.5" y2="373.2" stroke="#6e6e6e" stroke-width="0.7" opacity="0.55"/>
<line x1="297" y1="377.1" x2="353.5" y2="377.1" stroke="#6e6e6e" stroke-width="0.7" opacity="0.55"/>
<line x1="297" y1="381.0" x2="353.5" y2="381.0" stroke="#6e6e6e" stroke-width="0.7" opacity="0.55"/>
<line x1="297" y1="384.9" x2="353.5" y2="384.9" stroke="#6e6e6e" stroke-width="0.7" opacity="0.55"/>
<line x1="297" y1="388.8" x2="353.5" y2="388.8" stroke="#6e6e6e" stroke-width="0.7" opacity="0.55"/>
<line x1="297" y1="392.7" x2="353.5" y2="392.7" stroke="#6e6e6e" stroke-width="0.7" opacity="0.55"/>
<line x1="297" y1="396.6" x2="353.5" y2="396.6" stroke="#6e6e6e" stroke-width="0.7" opacity="0.55"/>
<path d="M317.5,280 L334,280 L353.5,301.8 L297,301.8 Z" fill="url(#gSilver)"/>
<path d="M327,280 L334,280 L353.5,301.8 L335,301.8 Z" fill="#9c9c9c" opacity="0.35"/>
<path d="M328,281 L335,302 V424" fill="none" stroke="#f4f4f4" stroke-width="1.8"/>
<path d="M336.2,302 V424" fill="none" stroke="#8e8e8e" stroke-width="0.8"/>
<rect x="295.5" y="360.0" width="3.0" height="40.0" fill="#e4e4e4" stroke="#a2a2a2" stroke-width="0.5" opacity="0.75"/>
<rect x="295.5" y="400.0" width="3.0" height="61.0" fill="#dcdcdc" stroke="#9a9a9a" stroke-width="0.6"/>
<rect x="307.5" y="360.0" width="3.0" height="40.0" fill="#e4e4e4" stroke="#a2a2a2" stroke-width="0.5" opacity="0.75"/>
<rect x="307.5" y="400.0" width="3.0" height="61.0" fill="#dcdcdc" stroke="#9a9a9a" stroke-width="0.6"/>
<rect x="342.0" y="360.0" width="3.0" height="40.0" fill="#e4e4e4" stroke="#a2a2a2" stroke-width="0.5" opacity="0.75"/>
<rect x="342.0" y="400.0" width="3.0" height="61.0" fill="#dcdcdc" stroke="#9a9a9a" stroke-width="0.6"/>
<rect x="353.0" y="360.0" width="3.0" height="40.0" fill="#e4e4e4" stroke="#a2a2a2" stroke-width="0.5" opacity="0.75"/>
<rect x="353.0" y="400.0" width="3.0" height="61.0" fill="#dcdcdc" stroke="#9a9a9a" stroke-width="0.6"/>
<rect x="393.8" y="359.5" width="3.0" height="101.5" fill="#d9d9d9" stroke="#9a9a9a" stroke-width="0.6"/>
<rect x="405.8" y="359.5" width="3.0" height="101.5" fill="#d9d9d9" stroke="#9a9a9a" stroke-width="0.6"/>
<rect x="440.3" y="359.5" width="3.0" height="101.5" fill="#d9d9d9" stroke="#9a9a9a" stroke-width="0.6"/>
<rect x="451.3" y="359.5" width="3.0" height="101.5" fill="#d9d9d9" stroke="#9a9a9a" stroke-width="0.6"/>
<rect x="412.3" y="425.0" width="2.0" height="27.0" fill="#c8c8c8" stroke="#9a9a9a" stroke-width="0.4"/>
<rect x="418.3" y="425.0" width="2.0" height="27.0" fill="#c8c8c8" stroke="#9a9a9a" stroke-width="0.4"/>
<rect x="428.3" y="425.0" width="2.0" height="27.0" fill="#c8c8c8" stroke="#9a9a9a" stroke-width="0.4"/>
<rect x="434.3" y="425.0" width="2.0" height="27.0" fill="#c8c8c8" stroke="#9a9a9a" stroke-width="0.4"/>
<path d="M395.3,399 L451.8,399 L441.8,424.5 L406.3,424.5 Z" fill="url(#gSilverD)"/>
<path d="M398.3,424.5 L448.8,424.5 L448.8,428 L398.3,428 Z" fill="#b8b8b8" opacity="0.8"/>
<rect x="395.3" y="301.5" width="56.5" height="98.0" fill="url(#gSilver)" />
<line x1="395.3" y1="303.0" x2="451.8" y2="303.0" stroke="#6e6e6e" stroke-width="0.7" opacity="0.55"/>
<line x1="395.3" y1="306.9" x2="451.8" y2="306.9" stroke="#6e6e6e" stroke-width="0.7" opacity="0.55"/>
<line x1="395.3" y1="310.8" x2="451.8" y2="310.8" stroke="#6e6e6e" stroke-width="0.7" opacity="0.55"/>
<line x1="395.3" y1="314.7" x2="451.8" y2="314.7" stroke="#6e6e6e" stroke-width="0.7" opacity="0.55"/>
<line x1="395.3" y1="318.6" x2="451.8" y2="318.6" stroke="#6e6e6e" stroke-width="0.7" opacity="0.55"/>
<line x1="395.3" y1="322.5" x2="451.8" y2="322.5" stroke="#6e6e6e" stroke-width="0.7" opacity="0.55"/>
<line x1="395.3" y1="326.4" x2="451.8" y2="326.4" stroke="#6e6e6e" stroke-width="0.7" opacity="0.55"/>
<line x1="395.3" y1="330.3" x2="451.8" y2="330.3" stroke="#6e6e6e" stroke-width="0.7" opacity="0.55"/>
<line x1="395.3" y1="334.2" x2="451.8" y2="334.2" stroke="#6e6e6e" stroke-width="0.7" opacity="0.55"/>
<line x1="395.3" y1="338.1" x2="451.8" y2="338.1" stroke="#6e6e6e" stroke-width="0.7" opacity="0.55"/>
<line x1="395.3" y1="342.0" x2="451.8" y2="342.0" stroke="#6e6e6e" stroke-width="0.7" opacity="0.55"/>
<line x1="395.3" y1="345.9" x2="451.8" y2="345.9" stroke="#6e6e6e" stroke-width="0.7" opacity="0.55"/>
<line x1="395.3" y1="349.8" x2="451.8" y2="349.8" stroke="#6e6e6e" stroke-width="0.7" opacity="0.55"/>
<line x1="395.3" y1="353.7" x2="451.8" y2="353.7" stroke="#6e6e6e" stroke-width="0.7" opacity="0.55"/>
<line x1="395.3" y1="357.6" x2="451.8" y2="357.6" stroke="#6e6e6e" stroke-width="0.7" opacity="0.55"/>
<line x1="395.3" y1="361.5" x2="451.8" y2="361.5" stroke="#6e6e6e" stroke-width="0.7" opacity="0.55"/>
<line x1="395.3" y1="365.4" x2="451.8" y2="365.4" stroke="#6e6e6e" stroke-width="0.7" opacity="0.55"/>
<line x1="395.3" y1="369.3" x2="451.8" y2="369.3" stroke="#6e6e6e" stroke-width="0.7" opacity="0.55"/>
<line x1="395.3" y1="373.2" x2="451.8" y2="373.2" stroke="#6e6e6e" stroke-width="0.7" opacity="0.55"/>
<line x1="395.3" y1="377.1" x2="451.8" y2="377.1" stroke="#6e6e6e" stroke-width="0.7" opacity="0.55"/>
<line x1="395.3" y1="381.0" x2="451.8" y2="381.0" stroke="#6e6e6e" stroke-width="0.7" opacity="0.55"/>
<line x1="395.3" y1="384.9" x2="451.8" y2="384.9" stroke="#6e6e6e" stroke-width="0.7" opacity="0.55"/>
<line x1="395.3" y1="388.8" x2="451.8" y2="388.8" stroke="#6e6e6e" stroke-width="0.7" opacity="0.55"/>
<line x1="395.3" y1="392.7" x2="451.8" y2="392.7" stroke="#6e6e6e" stroke-width="0.7" opacity="0.55"/>
<line x1="395.3" y1="396.6" x2="451.8" y2="396.6" stroke="#6e6e6e" stroke-width="0.7" opacity="0.55"/>
<path d="M415.8,280 L432.3,280 L451.8,301.8 L395.3,301.8 Z" fill="url(#gSilver)"/>
<path d="M425.3,280 L432.3,280 L451.8,301.8 L433.3,301.8 Z" fill="#9c9c9c" opacity="0.35"/>
<path d="M426.3,281 L433.3,302 V424" fill="none" stroke="#f4f4f4" stroke-width="1.8"/>
<path d="M434.5,302 V424" fill="none" stroke="#8e8e8e" stroke-width="0.8"/>
<rect x="393.8" y="360.0" width="3.0" height="40.0" fill="#e4e4e4" stroke="#a2a2a2" stroke-width="0.5" opacity="0.75"/>
<rect x="393.8" y="400.0" width="3.0" height="61.0" fill="#dcdcdc" stroke="#9a9a9a" stroke-width="0.6"/>
<rect x="405.8" y="360.0" width="3.0" height="40.0" fill="#e4e4e4" stroke="#a2a2a2" stroke-width="0.5" opacity="0.75"/>
<rect x="405.8" y="400.0" width="3.0" height="61.0" fill="#dcdcdc" stroke="#9a9a9a" stroke-width="0.6"/>
<rect x="440.3" y="360.0" width="3.0" height="40.0" fill="#e4e4e4" stroke="#a2a2a2" stroke-width="0.5" opacity="0.75"/>
<rect x="440.3" y="400.0" width="3.0" height="61.0" fill="#dcdcdc" stroke="#9a9a9a" stroke-width="0.6"/>
<rect x="451.3" y="360.0" width="3.0" height="40.0" fill="#e4e4e4" stroke="#a2a2a2" stroke-width="0.5" opacity="0.75"/>
<rect x="451.3" y="400.0" width="3.0" height="61.0" fill="#dcdcdc" stroke="#9a9a9a" stroke-width="0.6"/>
<g transform="translate(571.5,352.5) scale(1.0000,1.0000)">
<path d="M-34,32 L-14,32 L-10,50 L-40,50 Z" fill="#a2a2a2"/>
<path d="M14,32 L34,32 L40,50 L10,50 Z" fill="#a2a2a2"/>
<rect x="-43" y="49" width="32" height="4" fill="#b0b0b0"/>
<rect x="12" y="49" width="33" height="4" fill="#b0b0b0"/>
<path d="M0,-43 L53,-43 L53,-16 L34,-16 Q30,-8 36,0 L0,0 Z" fill="url(#gDuct)"/>
<rect x="52" y="-48" width="11" height="40" rx="1" fill="#a6a6a6"/>
<rect x="52" y="-48" width="3" height="40" fill="#fff" opacity="0.25"/>
<circle cx="0" cy="0" r="43" fill="url(#gFan)"/>
<circle cx="-1" cy="0" r="23.6" fill="#2c2c2c"/>
<line x1="2.8" y1="1.4" x2="19.2" y2="7.4" stroke="#d2d2d2" stroke-width="3.2" stroke-linecap="round"/>
<line x1="-0.3" y1="3.9" x2="2.7" y2="21.2" stroke="#d2d2d2" stroke-width="3.2" stroke-linecap="round"/>
<line x1="-4.1" y1="2.6" x2="-17.5" y2="13.8" stroke="#d2d2d2" stroke-width="3.2" stroke-linecap="round"/>
<line x1="-4.8" y1="-1.4" x2="-21.2" y2="-7.4" stroke="#d2d2d2" stroke-width="3.2" stroke-linecap="round"/>
<line x1="-1.7" y1="-3.9" x2="-4.7" y2="-21.2" stroke="#d2d2d2" stroke-width="3.2" stroke-linecap="round"/>
<line x1="2.1" y1="-2.6" x2="15.5" y2="-13.8" stroke="#d2d2d2" stroke-width="3.2" stroke-linecap="round"/>
<circle cx="-1" cy="0" r="4.5" fill="#d2d2d2"/>
</g>
<g transform="translate(676,679) scale(0.8140,0.8140)">
<path d="M-34,32 L-14,32 L-10,50 L-40,50 Z" fill="#a2a2a2"/>
<path d="M14,32 L34,32 L40,50 L10,50 Z" fill="#a2a2a2"/>
<rect x="-43" y="49" width="32" height="4" fill="#b0b0b0"/>
<rect x="12" y="49" width="33" height="4" fill="#b0b0b0"/>
<path d="M0,-43 L53,-43 L53,-16 L34,-16 Q30,-8 36,0 L0,0 Z" fill="url(#gDuct)"/>
<rect x="52" y="-48" width="11" height="40" rx="1" fill="#a6a6a6"/>
<rect x="52" y="-48" width="3" height="40" fill="#fff" opacity="0.25"/>
<circle cx="0" cy="0" r="43" fill="url(#gFan)"/>
<circle cx="-1" cy="0" r="23.6" fill="#2c2c2c"/>
<line x1="2.8" y1="1.4" x2="19.2" y2="7.4" stroke="#d2d2d2" stroke-width="3.2" stroke-linecap="round"/>
<line x1="-0.3" y1="3.9" x2="2.7" y2="21.2" stroke="#d2d2d2" stroke-width="3.2" stroke-linecap="round"/>
<line x1="-4.1" y1="2.6" x2="-17.5" y2="13.8" stroke="#d2d2d2" stroke-width="3.2" stroke-linecap="round"/>
<line x1="-4.8" y1="-1.4" x2="-21.2" y2="-7.4" stroke="#d2d2d2" stroke-width="3.2" stroke-linecap="round"/>
<line x1="-1.7" y1="-3.9" x2="-4.7" y2="-21.2" stroke="#d2d2d2" stroke-width="3.2" stroke-linecap="round"/>
<line x1="2.1" y1="-2.6" x2="15.5" y2="-13.8" stroke="#d2d2d2" stroke-width="3.2" stroke-linecap="round"/>
<circle cx="-1" cy="0" r="4.5" fill="#d2d2d2"/>
</g>
<g transform="translate(86,939) scale(-0.8605,0.8605)">
<path d="M-34,32 L-14,32 L-10,50 L-40,50 Z" fill="#86b81c"/>
<path d="M14,32 L34,32 L40,50 L10,50 Z" fill="#86b81c"/>
<rect x="-43" y="49" width="32" height="4" fill="#8cc020"/>
<rect x="12" y="49" width="33" height="4" fill="#8cc020"/>
<path d="M0,-43 L53,-43 L53,-16 L34,-16 Q30,-8 36,0 L0,0 Z" fill="url(#gDuctG)"/>
<rect x="52" y="-48" width="11" height="40" rx="1" fill="#9ccc2c"/>
<rect x="52" y="-48" width="3" height="40" fill="#fff" opacity="0.25"/>
<circle cx="0" cy="0" r="43" fill="url(#gFanG)"/>
<circle cx="-1" cy="0" r="23.6" fill="#2b3a08"/>
<line x1="2.8" y1="1.4" x2="19.2" y2="7.4" stroke="#d8f088" stroke-width="3.2" stroke-linecap="round"/>
<line x1="-0.3" y1="3.9" x2="2.7" y2="21.2" stroke="#d8f088" stroke-width="3.2" stroke-linecap="round"/>
<line x1="-4.1" y1="2.6" x2="-17.5" y2="13.8" stroke="#d8f088" stroke-width="3.2" stroke-linecap="round"/>
<line x1="-4.8" y1="-1.4" x2="-21.2" y2="-7.4" stroke="#d8f088" stroke-width="3.2" stroke-linecap="round"/>
<line x1="-1.7" y1="-3.9" x2="-4.7" y2="-21.2" stroke="#d8f088" stroke-width="3.2" stroke-linecap="round"/>
<line x1="2.1" y1="-2.6" x2="15.5" y2="-13.8" stroke="#d8f088" stroke-width="3.2" stroke-linecap="round"/>
<circle cx="-1" cy="0" r="4.5" fill="#d8f088"/>
</g>
<g>
<g filter="url(#fBlur05)"><path d="M703,170 C701,158 703,146 709,138 C712,130 720,126 730,128 C738,125 748,129 749,138 C753,145 751,156 746,160 C743,167 734,168 729,163 C725,162 723,166 722,170 Z" fill="#f3f3f3"/><path d="M716,150 C720,140 732,136 741,140 C746,144 746,152 741,156 C735,160 728,157 724,160 C720,163 718,158 716,150 Z" fill="#dadada" filter="url(#fBlur1)"/><path d="M706,168 C705,156 708,146 714,141 C716,150 716,160 718,168 Z" fill="#fbfbfb"/><path d="M712,136 C718,130 728,129 736,132 C730,133 722,136 718,142 Z" fill="#ffffff"/></g>
<g stroke="#7e8a98" stroke-width="0.6" fill="none" opacity="0.9">
<line x1="693" y1="163" x2="693" y2="171"/>
<line x1="696" y1="163" x2="696" y2="171"/>
<line x1="699" y1="163" x2="699" y2="171"/>
<line x1="702" y1="163" x2="702" y2="171"/>
<line x1="705" y1="163" x2="705" y2="171"/>
<line x1="708" y1="163" x2="708" y2="171"/>
<line x1="711" y1="163" x2="711" y2="171"/>
<line x1="714" y1="163" x2="714" y2="171"/>
<line x1="717" y1="163" x2="717" y2="171"/>
<line x1="720" y1="163" x2="720" y2="171"/>
<line x1="723" y1="163" x2="723" y2="171"/>
<line x1="726" y1="163" x2="726" y2="171"/>
<line x1="692" y1="163" x2="727" y2="163"/><line x1="692" y1="167" x2="727" y2="167"/><line x1="692" y1="171" x2="727" y2="171"/>
<line x1="693" y1="222" x2="693" y2="229"/>
<line x1="696" y1="222" x2="696" y2="229"/>
<line x1="699" y1="222" x2="699" y2="229"/>
<line x1="702" y1="222" x2="702" y2="229"/>
<line x1="705" y1="222" x2="705" y2="229"/>
<line x1="708" y1="222" x2="708" y2="229"/>
<line x1="711" y1="222" x2="711" y2="229"/>
<line x1="714" y1="222" x2="714" y2="229"/>
<line x1="717" y1="222" x2="717" y2="229"/>
<line x1="720" y1="222" x2="720" y2="229"/>
<line x1="723" y1="222" x2="723" y2="229"/>
<line x1="726" y1="222" x2="726" y2="229"/>
<line x1="692" y1="222" x2="727" y2="222"/><line x1="692" y1="229" x2="727" y2="229"/>
</g>
<g stroke="#7e8a98" stroke-width="0.6" fill="none" opacity="0.85"><line x1="693.2" y1="171" x2="693.2" y2="340"/><line x1="696" y1="171" x2="696" y2="340"/>
<line x1="693.2" y1="174" x2="696" y2="174"/>
<line x1="693.2" y1="178" x2="696" y2="178"/>
<line x1="693.2" y1="182" x2="696" y2="182"/>
<line x1="693.2" y1="186" x2="696" y2="186"/>
<line x1="693.2" y1="190" x2="696" y2="190"/>
<line x1="693.2" y1="194" x2="696" y2="194"/>
<line x1="693.2" y1="198" x2="696" y2="198"/>
<line x1="693.2" y1="202" x2="696" y2="202"/>
<line x1="693.2" y1="206" x2="696" y2="206"/>
<line x1="693.2" y1="210" x2="696" y2="210"/>
<line x1="693.2" y1="214" x2="696" y2="214"/>
<line x1="693.2" y1="218" x2="696" y2="218"/>
<line x1="693.2" y1="222" x2="696" y2="222"/>
<line x1="693.2" y1="226" x2="696" y2="226"/>
<line x1="693.2" y1="230" x2="696" y2="230"/>
<line x1="693.2" y1="234" x2="696" y2="234"/>
<line x1="693.2" y1="238" x2="696" y2="238"/>
<line x1="693.2" y1="242" x2="696" y2="242"/>
<line x1="693.2" y1="246" x2="696" y2="246"/>
<line x1="693.2" y1="250" x2="696" y2="250"/>
<line x1="693.2" y1="254" x2="696" y2="254"/>
<line x1="693.2" y1="258" x2="696" y2="258"/>
<line x1="693.2" y1="262" x2="696" y2="262"/>
<line x1="693.2" y1="266" x2="696" y2="266"/>
<line x1="693.2" y1="270" x2="696" y2="270"/>
<line x1="693.2" y1="274" x2="696" y2="274"/>
<line x1="693.2" y1="278" x2="696" y2="278"/>
<line x1="693.2" y1="282" x2="696" y2="282"/>
<line x1="693.2" y1="286" x2="696" y2="286"/>
<line x1="693.2" y1="290" x2="696" y2="290"/>
<line x1="693.2" y1="294" x2="696" y2="294"/>
<line x1="693.2" y1="298" x2="696" y2="298"/>
<line x1="693.2" y1="302" x2="696" y2="302"/>
<line x1="693.2" y1="306" x2="696" y2="306"/>
<line x1="693.2" y1="310" x2="696" y2="310"/>
<line x1="693.2" y1="314" x2="696" y2="314"/>
<line x1="693.2" y1="318" x2="696" y2="318"/>
<line x1="693.2" y1="322" x2="696" y2="322"/>
<line x1="693.2" y1="326" x2="696" y2="326"/>
<line x1="693.2" y1="330" x2="696" y2="330"/>
<line x1="693.2" y1="334" x2="696" y2="334"/>
<line x1="693.2" y1="338" x2="696" y2="338"/>
</g>
<rect x="696.2" y="170.0" width="26.2" height="170.0" fill="url(#gChim)" />
<rect x="697.2" y="233.0" width="24.2" height="24.4" fill="url(#gChimG)" />
<rect x="697.2" y="261.0" width="24.2" height="25.9" fill="url(#gChimG)" />
<rect x="696.2" y="170.0" width="26.2" height="3.0" fill="#7c4a22" />
<rect x="695.8" y="229.2" width="27.0" height="3.8" fill="#8c4e22" />
<rect x="695.8" y="257.3" width="27.0" height="3.8" fill="#8c4e22" />
<rect x="695.8" y="286.8" width="27.0" height="3.8" fill="#8c4e22" />
<rect x="695.8" y="316.2" width="27.0" height="3.8" fill="#8c4e22" />
<rect x="699.6" y="175.0" width="2.6" height="160.0" fill="#bebebe" stroke="#8a8a8a" stroke-width="0.4"/>
<rect x="713.6" y="256.0" width="2.6" height="60.0" fill="#c2c2c2" stroke="#8a8a8a" stroke-width="0.4"/>
</g>
<rect x="857.0" y="100.5" width="91.5" height="51.5" fill="#23120c" />
<rect x="857.0" y="151.0" width="161.5" height="80.0" fill="#23120c" />
<rect x="864.0" y="107.0" width="77.5" height="23.0" fill="#1c1412" />
<rect x="864.0" y="129.0" width="77.5" height="21.5" fill="url(#gWater2)" />
<rect x="864.0" y="158.5" width="147.0" height="12.5" fill="#3a3d40" />
<rect x="864.0" y="170.0" width="147.0" height="54.0" fill="url(#gWater)" />
<g transform="translate(0,0.0)">
<rect x="885.0" y="272.0" width="11.5" height="11.0" fill="url(#gMotor)" />
<rect x="875.5" y="268" width="30" height="4.6" rx="1.5" fill="#d4d4d4" stroke="#9a9a9a" stroke-width="0.6"/>
<rect x="803" y="281.5" width="72" height="36.5" rx="9" fill="#9c9c9c"/>
<rect x="815" y="281" width="60" height="37" rx="2" fill="url(#gMotor)"/>
<rect x="821.0" y="285.5" width="42.0" height="2.6" fill="#1c1c1c" />
<rect x="821.0" y="291.9" width="42.0" height="2.6" fill="#1c1c1c" />
<rect x="821.0" y="298.3" width="42.0" height="2.6" fill="#1c1c1c" />
<rect x="821.0" y="304.7" width="42.0" height="2.6" fill="#1c1c1c" />
<rect x="821.0" y="311.1" width="42.0" height="2.6" fill="#1c1c1c" />
<rect x="822.0" y="298.5" width="19.5" height="19.5" fill="#8a9292" />
<rect x="826.0" y="303.0" width="12.0" height="12.0" fill="#5e9a9e" />
<rect x="873.0" y="284.0" width="10.0" height="31.0" fill="#cfcfcf" />
<rect x="874.0" y="287.0" width="7.0" height="3.6" fill="#222" />
<rect x="874.0" y="294.4" width="7.0" height="3.6" fill="#222" />
<rect x="874.0" y="301.8" width="7.0" height="3.6" fill="#222" />
<rect x="874.0" y="309.2" width="7.0" height="3.6" fill="#222" />
<rect x="880.5" y="280" width="24" height="38" rx="4" fill="url(#gMotor)" stroke="#9a9a9a" stroke-width="0.6"/>
<rect x="899" y="284" width="6.5" height="30" rx="1.5" fill="#d4d4d4" stroke="#9a9a9a" stroke-width="0.5"/>
<rect x="880" y="284" width="4.5" height="30" rx="1.5" fill="#d4d4d4" stroke="#9a9a9a" stroke-width="0.5"/>
</g>
<g transform="translate(0,155.6)">
<rect x="885.0" y="272.0" width="11.5" height="11.0" fill="url(#gMotorG)" />
<rect x="875.5" y="268" width="30" height="4.6" rx="1.5" fill="#c6dc7a" stroke="#8aa030" stroke-width="0.6"/>
<rect x="803" y="281.5" width="72" height="36.5" rx="9" fill="#7e9e18"/>
<rect x="815" y="281" width="60" height="37" rx="2" fill="url(#gMotorG)"/>
<rect x="821.0" y="285.5" width="42.0" height="2.6" fill="#22300a" />
<rect x="821.0" y="291.9" width="42.0" height="2.6" fill="#22300a" />
<rect x="821.0" y="298.3" width="42.0" height="2.6" fill="#22300a" />
<rect x="821.0" y="304.7" width="42.0" height="2.6" fill="#22300a" />
<rect x="821.0" y="311.1" width="42.0" height="2.6" fill="#22300a" />
<rect x="822.0" y="298.5" width="19.5" height="19.5" fill="#6e9416" />
<rect x="826.0" y="303.0" width="12.0" height="12.0" fill="#86a826" />
<rect x="873.0" y="284.0" width="10.0" height="31.0" fill="#b4cc54" />
<rect x="874.0" y="287.0" width="7.0" height="3.6" fill="#2a380a" />
<rect x="874.0" y="294.4" width="7.0" height="3.6" fill="#2a380a" />
<rect x="874.0" y="301.8" width="7.0" height="3.6" fill="#2a380a" />
<rect x="874.0" y="309.2" width="7.0" height="3.6" fill="#2a380a" />
<rect x="880.5" y="280" width="24" height="38" rx="4" fill="url(#gMotorG)" stroke="#8aa030" stroke-width="0.6"/>
<rect x="899" y="284" width="6.5" height="30" rx="1.5" fill="#c6dc7a" stroke="#8aa030" stroke-width="0.5"/>
<rect x="880" y="284" width="4.5" height="30" rx="1.5" fill="#c6dc7a" stroke="#8aa030" stroke-width="0.5"/>
</g>
<g transform="translate(949.5,299.7)">
<rect x="-14.5" y="-34.3" width="29" height="4.4" rx="2.2" fill="#c2c6cc" stroke="#8e949e" stroke-width="0.6"/>
<rect x="-3.6" y="-30" width="7.2" height="11" fill="url(#gValveH)"/>
<rect x="-7.5" y="-21.5" width="15" height="10" fill="url(#gValveH)"/>
<rect x="-9.5" y="-12.5" width="19" height="3" fill="#62779e"/>
<rect x="-13" y="-9.5" width="26" height="20.5" fill="url(#gValve)"/>
<rect x="-17.5" y="-12.5" width="5.6" height="26" rx="1.2" fill="url(#gValve)" stroke="#44577c" stroke-width="0.5"/>
<rect x="11.9" y="-12.5" width="5.6" height="26" rx="1.2" fill="url(#gValve)" stroke="#44577c" stroke-width="0.5"/>
</g>
<g transform="translate(949.5,455.3)">
<rect x="-14.5" y="-34.3" width="29" height="4.4" rx="2.2" fill="#c2c6cc" stroke="#8e949e" stroke-width="0.6"/>
<rect x="-3.6" y="-30" width="7.2" height="11" fill="url(#gValveH)"/>
<rect x="-7.5" y="-21.5" width="15" height="10" fill="url(#gValveH)"/>
<rect x="-9.5" y="-12.5" width="19" height="3" fill="#62779e"/>
<rect x="-13" y="-9.5" width="26" height="20.5" fill="url(#gValve)"/>
<rect x="-17.5" y="-12.5" width="5.6" height="26" rx="1.2" fill="url(#gValve)" stroke="#44577c" stroke-width="0.5"/>
<rect x="11.9" y="-12.5" width="5.6" height="26" rx="1.2" fill="url(#gValve)" stroke="#44577c" stroke-width="0.5"/>
</g>
<g transform="translate(949.5,605.5)">
<rect x="-14.5" y="-34.3" width="29" height="4.4" rx="2.2" fill="#c2c6cc" stroke="#8e949e" stroke-width="0.6"/>
<rect x="-3.6" y="-30" width="7.2" height="11" fill="url(#gValveH)"/>
<rect x="-7.5" y="-21.5" width="15" height="10" fill="url(#gValveH)"/>
<rect x="-9.5" y="-12.5" width="19" height="3" fill="#62779e"/>
<rect x="-13" y="-9.5" width="26" height="20.5" fill="url(#gValve)"/>
<rect x="-17.5" y="-12.5" width="5.6" height="26" rx="1.2" fill="url(#gValve)" stroke="#44577c" stroke-width="0.5"/>
<rect x="11.9" y="-12.5" width="5.6" height="26" rx="1.2" fill="url(#gValve)" stroke="#44577c" stroke-width="0.5"/>
</g>
<path d="M814.7,684 L823,681 L922.5,681 L922.5,771.5 L913.4,774.5 L814.7,774.5 Z" fill="#c0c0c0"/>
<path d="M913.4,684 L922.5,681 L922.5,771.5 L913.4,774.5 Z" fill="#b4b4b4"/>
<path d="M814.7,684 L823,681 L922.5,681 L913.4,684 Z" fill="#f0f0f0"/>
<rect x="814.7" y="684.0" width="98.7" height="90.5" fill="url(#gCab)" />
<rect x="829.9" y="703.0" width="68.9" height="71.0" fill="#cfcfcf" opacity="0.55"/>
<path d="M836,774 L870,716 L898,716 L898,744 L880,774 Z" fill="#ffffff" opacity="0.16"/>
<rect x="864.0" y="686.0" width="0.9" height="88.0" fill="#a6a6a6" />
<rect x="825.7" y="705.0" width="19.2" height="7.4" fill="#c9c9c9" stroke="#aeaeae" stroke-width="0.5"/>
<rect x="882.9" y="705.0" width="19.5" height="7.4" fill="#c9c9c9" stroke="#aeaeae" stroke-width="0.5"/>
<rect x="828.0" y="706.2" width="16.9" height="1.4" fill="#e6e6e6" />
<rect x="882.9" y="706.2" width="17.1" height="1.4" fill="#e6e6e6" />
<rect x="825.7" y="733.7" width="19.2" height="7.4" fill="#c9c9c9" stroke="#aeaeae" stroke-width="0.5"/>
<rect x="882.9" y="733.7" width="19.5" height="7.4" fill="#c9c9c9" stroke="#aeaeae" stroke-width="0.5"/>
<rect x="828.0" y="734.9" width="16.9" height="1.4" fill="#e6e6e6" />
<rect x="882.9" y="734.9" width="17.1" height="1.4" fill="#e6e6e6" />
<rect x="825.7" y="762.5" width="19.2" height="7.4" fill="#c9c9c9" stroke="#aeaeae" stroke-width="0.5"/>
<rect x="882.9" y="762.5" width="19.5" height="7.4" fill="#c9c9c9" stroke="#aeaeae" stroke-width="0.5"/>
<rect x="828.0" y="763.7" width="16.9" height="1.4" fill="#e6e6e6" />
<rect x="882.9" y="763.7" width="17.1" height="1.4" fill="#e6e6e6" />
<rect x="860.3" y="733.7" width="2.6" height="9.3" fill="#7e7e7e" />
<rect x="866.0" y="733.7" width="2.5" height="9.3" fill="#7e7e7e" />
<rect x="217.0" y="657.5" width="78.5" height="71.5" fill="url(#gCyl)" />
<rect x="234.0" y="715.0" width="44.5" height="14.0" fill="#1a3a66" />
<path d="M238,729 L242,720 L246,726 L250,717 L254,727 L258,719 L263,726 L267,718 L271,726 L274,721 L276,729 Z" fill="#f03418"/>
<path d="M246,729 L250,723 L254,729 L258,724 L262,729 Z" fill="#ffb030"/>
<path d="M165.0,730.0 L165.0,713.6 A9.0,9.0 0 0 1 174.0,704.6 L335.5,704.6 A9.0,9.0 0 0 1 344.5,713.6 L344.5,730.0" fill="none" stroke="#7c2b1e" stroke-width="16.2" stroke-linecap="butt" stroke-linejoin="round"/>
<path d="M165.0,730.0 L165.0,713.6 A9.0,9.0 0 0 1 174.0,704.6 L335.5,704.6 A9.0,9.0 0 0 1 344.5,713.6 L344.5,730.0" fill="none" stroke="#983526" stroke-width="14.3" stroke-linecap="butt" stroke-linejoin="round"/>
<path d="M165.0,730.0 L165.0,713.6 A9.0,9.0 0 0 1 174.0,704.6 L335.5,704.6 A9.0,9.0 0 0 1 344.5,713.6 L344.5,730.0" fill="none" stroke="#b44132" stroke-width="11.7" stroke-linecap="butt" stroke-linejoin="round"/>
<path d="M165.0,730.0 L165.0,713.6 A9.0,9.0 0 0 1 174.0,704.6 L335.5,704.6 A9.0,9.0 0 0 1 344.5,713.6 L344.5,730.0" fill="none" stroke="#c64d3b" stroke-width="8.1" stroke-linecap="butt" stroke-linejoin="round" transform="translate(-0.9,-0.9)"/>
<path d="M165.0,730.0 L165.0,713.6 A9.0,9.0 0 0 1 174.0,704.6 L335.5,704.6 A9.0,9.0 0 0 1 344.5,713.6 L344.5,730.0" fill="none" stroke="#d65a48" stroke-width="3.9" stroke-linecap="butt" stroke-linejoin="round" transform="translate(-0.9,-0.9)"/>
<path d="M125.5,728 H387 V798 Q322,808 256.5,800 Q190,808 125.5,798 Z" fill="url(#gDrum)"/>
<path d="M125.5,728 H256.5 V800 Q190,808 125.5,798 Z" fill="url(#gDrum)"/>
<path d="M256.5,728 H387 V798 Q322,808 256.5,800 Z" fill="url(#gDrum)"/>
<rect x="125.5" y="727.5" width="261.5" height="2.5" fill="#c8c8c8" />
<line x1="154" y1="731" x2="154" y2="800" stroke="#9a9a9a" stroke-width="0.8"/>
<line x1="156" y1="733" x2="156" y2="798" stroke="#8a8a8a" stroke-width="1.2" stroke-dasharray="1.2,4.5"/>
<line x1="208" y1="731" x2="208" y2="800" stroke="#9a9a9a" stroke-width="0.8"/>
<line x1="210" y1="733" x2="210" y2="798" stroke="#8a8a8a" stroke-width="1.2" stroke-dasharray="1.2,4.5"/>
<line x1="284" y1="731" x2="284" y2="800" stroke="#9a9a9a" stroke-width="0.8"/>
<line x1="286" y1="733" x2="286" y2="798" stroke="#8a8a8a" stroke-width="1.2" stroke-dasharray="1.2,4.5"/>
<line x1="337" y1="731" x2="337" y2="800" stroke="#9a9a9a" stroke-width="0.8"/>
<line x1="339" y1="733" x2="339" y2="798" stroke="#8a8a8a" stroke-width="1.2" stroke-dasharray="1.2,4.5"/>
<g transform="translate(92.7,213.5)">
<rect x="-10.5" y="-16.5" width="21" height="33" rx="2" fill="#f0685c"/>
<rect x="-6" y="-16.5" width="6" height="33" fill="#ffb0a6" opacity="0.75"/>
<rect x="6.5" y="-16.5" width="4" height="33" fill="#c83a30" opacity="0.6"/>
<rect x="-11.5" y="-6" width="23" height="2" fill="#c83a30" opacity="0.55"/>
<rect x="-11.5" y="4.5" width="23" height="2" fill="#c83a30" opacity="0.55"/>
<rect x="10" y="-4.5" width="12" height="9" fill="#e03028"/>
<circle cx="15" cy="-3" r="1.4" fill="#ffb0a6"/><circle cx="15" cy="3.5" r="1.4" fill="#ffb0a6"/>
<rect x="20.3" y="-9" width="8" height="18" rx="3" fill="#a81818"/>
<rect x="28" y="-4" width="6" height="8" fill="#b83028"/>
<rect x="32" y="-10.5" width="12" height="21" rx="1" fill="#e0483c"/>
<rect x="34" y="-10.5" width="3" height="21" fill="#ffb0a6" opacity="0.45"/>
<path d="M44,-6 Q49,-5 49,0 Q49,5 44,6 Z" fill="#e0483c"/>
<circle cx="37.5" cy="5" r="1.3" fill="#a81818"/>
<path d="M30,-10 V-15 Q30,-18 33,-18 H37 Q40,-18 40,-15 V-10" fill="none" stroke="#f08078" stroke-width="1.6"/>
</g>
<g transform="translate(159.7,213.5)">
<rect x="-10.5" y="-16.5" width="21" height="33" rx="2" fill="#c4c4c4"/>
<rect x="-6" y="-16.5" width="6" height="33" fill="#f2f2f2" opacity="0.75"/>
<rect x="6.5" y="-16.5" width="4" height="33" fill="#8c8c8c" opacity="0.6"/>
<rect x="-11.5" y="-6" width="23" height="2" fill="#8c8c8c" opacity="0.55"/>
<rect x="-11.5" y="4.5" width="23" height="2" fill="#8c8c8c" opacity="0.55"/>
<rect x="10" y="-4.5" width="12" height="9" fill="#8c8c8c"/>
<circle cx="15" cy="-3" r="1.4" fill="#f2f2f2"/><circle cx="15" cy="3.5" r="1.4" fill="#f2f2f2"/>
<rect x="20.3" y="-9" width="8" height="18" rx="3" fill="#1a30e0"/>
<rect x="28" y="-4" width="6" height="8" fill="#6e6e6e"/>
<rect x="32" y="-10.5" width="12" height="21" rx="1" fill="#9a9a9a"/>
<rect x="34" y="-10.5" width="3" height="21" fill="#f2f2f2" opacity="0.45"/>
<path d="M44,-6 Q49,-5 49,0 Q49,5 44,6 Z" fill="#9a9a9a"/>
<circle cx="37.5" cy="5" r="1.3" fill="#1a30e0"/>
<path d="M33,-10.5 V-13 Q33,-14.5 35,-14.5 H40" fill="none" stroke="#b0b0b0" stroke-width="1.2"/>
</g>
<!-- p50_container -->
<path d="M1096.5,790 L1495.5,790 L1900.5,790 L1900.5,797 L1748,913.5 L1633,913.5 L1495.5,800 L1350.5,913.5 L1236,913.5 L1096.5,797 Z" fill="#4a868e"/>
<path d="M1106,794.5 L1488.5,794.5 L1346.6,907.5 L1239,907.5 Z" fill="#1b1b1b"/>
<path d="M1502,794.5 L1891.5,794.5 L1744.5,907.5 L1636.5,907.5 Z" fill="#1b1b1b"/>
<rect x="1096.5" y="193.5" width="804.3" height="601.0" fill="#4a868e" />
<rect x="1103.0" y="199.5" width="792.0" height="590.5" fill="url(#gBox)" />
<rect x="1492.5" y="199.0" width="6.5" height="455.0" fill="#4a868e" />
<rect x="1106.0" y="360.0" width="22.8" height="287.0" fill="url(#gBag)" />
<rect x="1106.5" y="645.0" width="21.8" height="2.3" fill="#d8d8d8" />
<rect x="1106.5" y="644.0" width="21.8" height="1.0" fill="#8a8a8a" />
<rect x="1111.8" y="305.0" width="11.4" height="11.0" fill="url(#gRedV)" />
<g transform="translate(1119.0,354) rotate(40)"><rect x="-5.8" y="-25" width="11.6" height="25" fill="url(#gPipeW)"/><rect x="-6.2" y="-27.2" width="12.4" height="2.6" fill="#4a4a4a"/></g>
<rect x="1110.6" y="323.0" width="12.8" height="32.0" fill="url(#gPipeW)" />
<rect x="1106.0" y="315.4" width="22.8" height="9.0" fill="url(#gPipeW)" />
<rect x="1106.0" y="318.2" width="22.8" height="1.0" fill="#ffffff" opacity="0.45"/>
<rect x="1106.0" y="354.0" width="22.8" height="8.4" fill="url(#gPipeW)" />
<rect x="1106.0" y="357.6" width="22.8" height="1.0" fill="#777" opacity="0.5"/>
<rect x="1145.1" y="360.0" width="22.8" height="287.0" fill="url(#gBag)" />
<ellipse cx="1156.5" cy="422" rx="8.5" ry="46" fill="#ffffff" opacity="0.42" filter="url(#fBlur3)"/>
<rect x="1145.6" y="645.0" width="21.8" height="2.3" fill="#d8d8d8" />
<rect x="1145.6" y="644.0" width="21.8" height="1.0" fill="#8a8a8a" />
<rect x="1150.9" y="305.0" width="11.4" height="11.0" fill="url(#gRedV)" />
<g transform="translate(1158.1,354) rotate(40)"><rect x="-5.8" y="-25" width="11.6" height="25" fill="url(#gPipeG)"/><rect x="-6.2" y="-27.2" width="12.4" height="2.6" fill="#0a4a16"/></g>
<rect x="1149.7" y="323.0" width="12.8" height="32.0" fill="url(#gPipeG)" />
<rect x="1145.1" y="315.4" width="22.8" height="9.0" fill="url(#gPipeG)" />
<rect x="1145.1" y="318.2" width="22.8" height="1.0" fill="#ffffff" opacity="0.45"/>
<rect x="1145.1" y="354.0" width="22.8" height="8.4" fill="url(#gPipeW)" />
<rect x="1145.1" y="357.6" width="22.8" height="1.0" fill="#777" opacity="0.5"/>
<rect x="1184.1" y="360.0" width="22.8" height="287.0" fill="url(#gBag)" />
<rect x="1184.6" y="645.0" width="21.8" height="2.3" fill="#d8d8d8" />
<rect x="1184.6" y="644.0" width="21.8" height="1.0" fill="#8a8a8a" />
<rect x="1189.9" y="305.0" width="11.4" height="11.0" fill="url(#gRedV)" />
<g transform="translate(1197.1,354) rotate(40)"><rect x="-5.8" y="-25" width="11.6" height="25" fill="url(#gPipeW)"/><rect x="-6.2" y="-27.2" width="12.4" height="2.6" fill="#4a4a4a"/></g>
<rect x="1188.7" y="323.0" width="12.8" height="32.0" fill="url(#gPipeW)" />
<rect x="1184.1" y="315.4" width="22.8" height="9.0" fill="url(#gPipeW)" />
<rect x="1184.1" y="318.2" width="22.8" height="1.0" fill="#ffffff" opacity="0.45"/>
<rect x="1184.1" y="354.0" width="22.8" height="8.4" fill="url(#gPipeW)" />
<rect x="1184.1" y="357.6" width="22.8" height="1.0" fill="#777" opacity="0.5"/>
<rect x="1223.2" y="360.0" width="22.8" height="287.0" fill="url(#gBag)" />
<ellipse cx="1234.6" cy="422" rx="8.5" ry="46" fill="#ffffff" opacity="0.42" filter="url(#fBlur3)"/>
<rect x="1223.7" y="645.0" width="21.8" height="2.3" fill="#d8d8d8" />
<rect x="1223.7" y="644.0" width="21.8" height="1.0" fill="#8a8a8a" />
<rect x="1229.0" y="305.0" width="11.4" height="11.0" fill="url(#gRedV)" />
<g transform="translate(1236.2,354) rotate(40)"><rect x="-5.8" y="-25" width="11.6" height="25" fill="url(#gPipeG)"/><rect x="-6.2" y="-27.2" width="12.4" height="2.6" fill="#0a4a16"/></g>
<rect x="1227.8" y="323.0" width="12.8" height="32.0" fill="url(#gPipeG)" />
<rect x="1223.2" y="315.4" width="22.8" height="9.0" fill="url(#gPipeG)" />
<rect x="1223.2" y="318.2" width="22.8" height="1.0" fill="#ffffff" opacity="0.45"/>
<rect x="1223.2" y="354.0" width="22.8" height="8.4" fill="url(#gPipeW)" />
<rect x="1223.2" y="357.6" width="22.8" height="1.0" fill="#777" opacity="0.5"/>
<rect x="1262.3" y="360.0" width="22.8" height="287.0" fill="url(#gBag)" />
<rect x="1262.8" y="645.0" width="21.8" height="2.3" fill="#d8d8d8" />
<rect x="1262.8" y="644.0" width="21.8" height="1.0" fill="#8a8a8a" />
<rect x="1268.1" y="305.0" width="11.4" height="11.0" fill="url(#gRedV)" />
<g transform="translate(1275.3,354) rotate(40)"><rect x="-5.8" y="-25" width="11.6" height="25" fill="url(#gPipeW)"/><rect x="-6.2" y="-27.2" width="12.4" height="2.6" fill="#4a4a4a"/></g>
<rect x="1266.9" y="323.0" width="12.8" height="32.0" fill="url(#gPipeW)" />
<rect x="1262.3" y="315.4" width="22.8" height="9.0" fill="url(#gPipeW)" />
<rect x="1262.3" y="318.2" width="22.8" height="1.0" fill="#ffffff" opacity="0.45"/>
<rect x="1262.3" y="354.0" width="22.8" height="8.4" fill="url(#gPipeW)" />
<rect x="1262.3" y="357.6" width="22.8" height="1.0" fill="#777" opacity="0.5"/>
<rect x="1301.3" y="360.0" width="22.8" height="287.0" fill="url(#gBag)" />
<ellipse cx="1312.8" cy="422" rx="8.5" ry="46" fill="#ffffff" opacity="0.42" filter="url(#fBlur3)"/>
<rect x="1301.8" y="645.0" width="21.8" height="2.3" fill="#d8d8d8" />
<rect x="1301.8" y="644.0" width="21.8" height="1.0" fill="#8a8a8a" />
<rect x="1307.1" y="305.0" width="11.4" height="11.0" fill="url(#gRedV)" />
<g transform="translate(1314.3,354) rotate(40)"><rect x="-5.8" y="-25" width="11.6" height="25" fill="url(#gPipeG)"/><rect x="-6.2" y="-27.2" width="12.4" height="2.6" fill="#0a4a16"/></g>
<rect x="1305.9" y="323.0" width="12.8" height="32.0" fill="url(#gPipeG)" />
<rect x="1301.3" y="315.4" width="22.8" height="9.0" fill="url(#gPipeG)" />
<rect x="1301.3" y="318.2" width="22.8" height="1.0" fill="#ffffff" opacity="0.45"/>
<rect x="1301.3" y="354.0" width="22.8" height="8.4" fill="url(#gPipeW)" />
<rect x="1301.3" y="357.6" width="22.8" height="1.0" fill="#777" opacity="0.5"/>
<rect x="1340.4" y="360.0" width="22.8" height="287.0" fill="url(#gBag)" />
<rect x="1340.9" y="645.0" width="21.8" height="2.3" fill="#d8d8d8" />
<rect x="1340.9" y="644.0" width="21.8" height="1.0" fill="#8a8a8a" />
<rect x="1346.2" y="305.0" width="11.4" height="11.0" fill="url(#gRedV)" />
<g transform="translate(1353.4,354) rotate(40)"><rect x="-5.8" y="-25" width="11.6" height="25" fill="url(#gPipeW)"/><rect x="-6.2" y="-27.2" width="12.4" height="2.6" fill="#4a4a4a"/></g>
<rect x="1345.0" y="323.0" width="12.8" height="32.0" fill="url(#gPipeW)" />
<rect x="1340.4" y="315.4" width="22.8" height="9.0" fill="url(#gPipeW)" />
<rect x="1340.4" y="318.2" width="22.8" height="1.0" fill="#ffffff" opacity="0.45"/>
<rect x="1340.4" y="354.0" width="22.8" height="8.4" fill="url(#gPipeW)" />
<rect x="1340.4" y="357.6" width="22.8" height="1.0" fill="#777" opacity="0.5"/>
<rect x="1379.5" y="360.0" width="22.8" height="287.0" fill="url(#gBag)" />
<ellipse cx="1390.9" cy="422" rx="8.5" ry="46" fill="#ffffff" opacity="0.42" filter="url(#fBlur3)"/>
<rect x="1380.0" y="645.0" width="21.8" height="2.3" fill="#d8d8d8" />
<rect x="1380.0" y="644.0" width="21.8" height="1.0" fill="#8a8a8a" />
<rect x="1385.3" y="305.0" width="11.4" height="11.0" fill="url(#gRedV)" />
<g transform="translate(1392.5,354) rotate(40)"><rect x="-5.8" y="-25" width="11.6" height="25" fill="url(#gPipeG)"/><rect x="-6.2" y="-27.2" width="12.4" height="2.6" fill="#0a4a16"/></g>
<rect x="1384.1" y="323.0" width="12.8" height="32.0" fill="url(#gPipeG)" />
<rect x="1379.5" y="315.4" width="22.8" height="9.0" fill="url(#gPipeG)" />
<rect x="1379.5" y="318.2" width="22.8" height="1.0" fill="#ffffff" opacity="0.45"/>
<rect x="1379.5" y="354.0" width="22.8" height="8.4" fill="url(#gPipeW)" />
<rect x="1379.5" y="357.6" width="22.8" height="1.0" fill="#777" opacity="0.5"/>
<rect x="1418.6" y="360.0" width="22.8" height="287.0" fill="url(#gBag)" />
<rect x="1419.1" y="645.0" width="21.8" height="2.3" fill="#d8d8d8" />
<rect x="1419.1" y="644.0" width="21.8" height="1.0" fill="#8a8a8a" />
<rect x="1424.4" y="305.0" width="11.4" height="11.0" fill="url(#gRedV)" />
<g transform="translate(1431.6,354) rotate(40)"><rect x="-5.8" y="-25" width="11.6" height="25" fill="url(#gPipeW)"/><rect x="-6.2" y="-27.2" width="12.4" height="2.6" fill="#4a4a4a"/></g>
<rect x="1423.2" y="323.0" width="12.8" height="32.0" fill="url(#gPipeW)" />
<rect x="1418.6" y="315.4" width="22.8" height="9.0" fill="url(#gPipeW)" />
<rect x="1418.6" y="318.2" width="22.8" height="1.0" fill="#ffffff" opacity="0.45"/>
<rect x="1418.6" y="354.0" width="22.8" height="8.4" fill="url(#gPipeW)" />
<rect x="1418.6" y="357.6" width="22.8" height="1.0" fill="#777" opacity="0.5"/>
<rect x="1457.6" y="360.0" width="22.8" height="287.0" fill="url(#gBag)" />
<ellipse cx="1469.0" cy="422" rx="8.5" ry="46" fill="#ffffff" opacity="0.42" filter="url(#fBlur3)"/>
<rect x="1458.1" y="645.0" width="21.8" height="2.3" fill="#d8d8d8" />
<rect x="1458.1" y="644.0" width="21.8" height="1.0" fill="#8a8a8a" />
<rect x="1463.4" y="305.0" width="11.4" height="11.0" fill="url(#gRedV)" />
<g transform="translate(1470.6,354) rotate(40)"><rect x="-5.8" y="-25" width="11.6" height="25" fill="url(#gPipeG)"/><rect x="-6.2" y="-27.2" width="12.4" height="2.6" fill="#0a4a16"/></g>
<rect x="1462.2" y="323.0" width="12.8" height="32.0" fill="url(#gPipeG)" />
<rect x="1457.6" y="315.4" width="22.8" height="9.0" fill="url(#gPipeG)" />
<rect x="1457.6" y="318.2" width="22.8" height="1.0" fill="#ffffff" opacity="0.45"/>
<rect x="1457.6" y="354.0" width="22.8" height="8.4" fill="url(#gPipeW)" />
<rect x="1457.6" y="357.6" width="22.8" height="1.0" fill="#777" opacity="0.5"/>
<rect x="1505.0" y="360.0" width="22.8" height="287.0" fill="url(#gBag)" />
<rect x="1505.5" y="645.0" width="21.8" height="2.3" fill="#d8d8d8" />
<rect x="1505.5" y="644.0" width="21.8" height="1.0" fill="#8a8a8a" />
<rect x="1510.8" y="305.0" width="11.4" height="11.0" fill="url(#gRedV)" />
<g transform="translate(1518.0,354) rotate(40)"><rect x="-5.8" y="-25" width="11.6" height="25" fill="url(#gPipeW)"/><rect x="-6.2" y="-27.2" width="12.4" height="2.6" fill="#4a4a4a"/></g>
<rect x="1509.6" y="323.0" width="12.8" height="32.0" fill="url(#gPipeW)" />
<rect x="1505.0" y="315.4" width="22.8" height="9.0" fill="url(#gPipeW)" />
<rect x="1505.0" y="318.2" width="22.8" height="1.0" fill="#ffffff" opacity="0.45"/>
<rect x="1505.0" y="354.0" width="22.8" height="8.4" fill="url(#gPipeW)" />
<rect x="1505.0" y="357.6" width="22.8" height="1.0" fill="#777" opacity="0.5"/>
<rect x="1544.3" y="360.0" width="22.8" height="287.0" fill="url(#gBag)" />
<ellipse cx="1555.7" cy="422" rx="8.5" ry="46" fill="#ffffff" opacity="0.42" filter="url(#fBlur3)"/>
<rect x="1544.8" y="645.0" width="21.8" height="2.3" fill="#d8d8d8" />
<rect x="1544.8" y="644.0" width="21.8" height="1.0" fill="#8a8a8a" />
<rect x="1550.1" y="305.0" width="11.4" height="11.0" fill="url(#gRedV)" />
<g transform="translate(1557.3,354) rotate(40)"><rect x="-5.8" y="-25" width="11.6" height="25" fill="url(#gPipeG)"/><rect x="-6.2" y="-27.2" width="12.4" height="2.6" fill="#0a4a16"/></g>
<rect x="1548.9" y="323.0" width="12.8" height="32.0" fill="url(#gPipeG)" />
<rect x="1544.3" y="315.4" width="22.8" height="9.0" fill="url(#gPipeG)" />
<rect x="1544.3" y="318.2" width="22.8" height="1.0" fill="#ffffff" opacity="0.45"/>
<rect x="1544.3" y="354.0" width="22.8" height="8.4" fill="url(#gPipeW)" />
<rect x="1544.3" y="357.6" width="22.8" height="1.0" fill="#777" opacity="0.5"/>
<rect x="1583.6" y="360.0" width="22.8" height="287.0" fill="url(#gBag)" />
<rect x="1584.1" y="645.0" width="21.8" height="2.3" fill="#d8d8d8" />
<rect x="1584.1" y="644.0" width="21.8" height="1.0" fill="#8a8a8a" />
<rect x="1589.4" y="305.0" width="11.4" height="11.0" fill="url(#gRedV)" />
<g transform="translate(1596.6,354) rotate(40)"><rect x="-5.8" y="-25" width="11.6" height="25" fill="url(#gPipeW)"/><rect x="-6.2" y="-27.2" width="12.4" height="2.6" fill="#4a4a4a"/></g>
<rect x="1588.2" y="323.0" width="12.8" height="32.0" fill="url(#gPipeW)" />
<rect x="1583.6" y="315.4" width="22.8" height="9.0" fill="url(#gPipeW)" />
<rect x="1583.6" y="318.2" width="22.8" height="1.0" fill="#ffffff" opacity="0.45"/>
<rect x="1583.6" y="354.0" width="22.8" height="8.4" fill="url(#gPipeW)" />
<rect x="1583.6" y="357.6" width="22.8" height="1.0" fill="#777" opacity="0.5"/>
<rect x="1622.9" y="360.0" width="22.8" height="287.0" fill="url(#gBag)" />
<ellipse cx="1634.3" cy="422" rx="8.5" ry="46" fill="#ffffff" opacity="0.42" filter="url(#fBlur3)"/>
<rect x="1623.4" y="645.0" width="21.8" height="2.3" fill="#d8d8d8" />
<rect x="1623.4" y="644.0" width="21.8" height="1.0" fill="#8a8a8a" />
<rect x="1628.7" y="305.0" width="11.4" height="11.0" fill="url(#gRedV)" />
<g transform="translate(1635.9,354) rotate(40)"><rect x="-5.8" y="-25" width="11.6" height="25" fill="url(#gPipeG)"/><rect x="-6.2" y="-27.2" width="12.4" height="2.6" fill="#0a4a16"/></g>
<rect x="1627.5" y="323.0" width="12.8" height="32.0" fill="url(#gPipeG)" />
<rect x="1622.9" y="315.4" width="22.8" height="9.0" fill="url(#gPipeG)" />
<rect x="1622.9" y="318.2" width="22.8" height="1.0" fill="#ffffff" opacity="0.45"/>
<rect x="1622.9" y="354.0" width="22.8" height="8.4" fill="url(#gPipeW)" />
<rect x="1622.9" y="357.6" width="22.8" height="1.0" fill="#777" opacity="0.5"/>
<rect x="1662.2" y="360.0" width="22.8" height="287.0" fill="url(#gBag)" />
<rect x="1662.7" y="645.0" width="21.8" height="2.3" fill="#d8d8d8" />
<rect x="1662.7" y="644.0" width="21.8" height="1.0" fill="#8a8a8a" />
<rect x="1668.0" y="305.0" width="11.4" height="11.0" fill="url(#gRedV)" />
<g transform="translate(1675.2,354) rotate(40)"><rect x="-5.8" y="-25" width="11.6" height="25" fill="url(#gPipeW)"/><rect x="-6.2" y="-27.2" width="12.4" height="2.6" fill="#4a4a4a"/></g>
<rect x="1666.8" y="323.0" width="12.8" height="32.0" fill="url(#gPipeW)" />
<rect x="1662.2" y="315.4" width="22.8" height="9.0" fill="url(#gPipeW)" />
<rect x="1662.2" y="318.2" width="22.8" height="1.0" fill="#ffffff" opacity="0.45"/>
<rect x="1662.2" y="354.0" width="22.8" height="8.4" fill="url(#gPipeW)" />
<rect x="1662.2" y="357.6" width="22.8" height="1.0" fill="#777" opacity="0.5"/>
<rect x="1701.5" y="360.0" width="22.8" height="287.0" fill="url(#gBag)" />
<ellipse cx="1712.9" cy="422" rx="8.5" ry="46" fill="#ffffff" opacity="0.42" filter="url(#fBlur3)"/>
<rect x="1702.0" y="645.0" width="21.8" height="2.3" fill="#d8d8d8" />
<rect x="1702.0" y="644.0" width="21.8" height="1.0" fill="#8a8a8a" />
<rect x="1707.3" y="305.0" width="11.4" height="11.0" fill="url(#gRedV)" />
<g transform="translate(1714.5,354) rotate(40)"><rect x="-5.8" y="-25" width="11.6" height="25" fill="url(#gPipeG)"/><rect x="-6.2" y="-27.2" width="12.4" height="2.6" fill="#0a4a16"/></g>
<rect x="1706.1" y="323.0" width="12.8" height="32.0" fill="url(#gPipeG)" />
<rect x="1701.5" y="315.4" width="22.8" height="9.0" fill="url(#gPipeG)" />
<rect x="1701.5" y="318.2" width="22.8" height="1.0" fill="#ffffff" opacity="0.45"/>
<rect x="1701.5" y="354.0" width="22.8" height="8.4" fill="url(#gPipeW)" />
<rect x="1701.5" y="357.6" width="22.8" height="1.0" fill="#777" opacity="0.5"/>
<rect x="1740.8" y="360.0" width="22.8" height="287.0" fill="url(#gBag)" />
<rect x="1741.3" y="645.0" width="21.8" height="2.3" fill="#d8d8d8" />
<rect x="1741.3" y="644.0" width="21.8" height="1.0" fill="#8a8a8a" />
<rect x="1746.6" y="305.0" width="11.4" height="11.0" fill="url(#gRedV)" />
<g transform="translate(1753.8,354) rotate(40)"><rect x="-5.8" y="-25" width="11.6" height="25" fill="url(#gPipeW)"/><rect x="-6.2" y="-27.2" width="12.4" height="2.6" fill="#4a4a4a"/></g>
<rect x="1745.4" y="323.0" width="12.8" height="32.0" fill="url(#gPipeW)" />
<rect x="1740.8" y="315.4" width="22.8" height="9.0" fill="url(#gPipeW)" />
<rect x="1740.8" y="318.2" width="22.8" height="1.0" fill="#ffffff" opacity="0.45"/>
<rect x="1740.8" y="354.0" width="22.8" height="8.4" fill="url(#gPipeW)" />
<rect x="1740.8" y="357.6" width="22.8" height="1.0" fill="#777" opacity="0.5"/>
<rect x="1780.1" y="360.0" width="22.8" height="287.0" fill="url(#gBag)" />
<ellipse cx="1791.5" cy="422" rx="8.5" ry="46" fill="#ffffff" opacity="0.42" filter="url(#fBlur3)"/>
<rect x="1780.6" y="645.0" width="21.8" height="2.3" fill="#d8d8d8" />
<rect x="1780.6" y="644.0" width="21.8" height="1.0" fill="#8a8a8a" />
<rect x="1785.9" y="305.0" width="11.4" height="11.0" fill="url(#gRedV)" />
<g transform="translate(1793.1,354) rotate(40)"><rect x="-5.8" y="-25" width="11.6" height="25" fill="url(#gPipeG)"/><rect x="-6.2" y="-27.2" width="12.4" height="2.6" fill="#0a4a16"/></g>
<rect x="1784.7" y="323.0" width="12.8" height="32.0" fill="url(#gPipeG)" />
<rect x="1780.1" y="315.4" width="22.8" height="9.0" fill="url(#gPipeG)" />
<rect x="1780.1" y="318.2" width="22.8" height="1.0" fill="#ffffff" opacity="0.45"/>
<rect x="1780.1" y="354.0" width="22.8" height="8.4" fill="url(#gPipeW)" />
<rect x="1780.1" y="357.6" width="22.8" height="1.0" fill="#777" opacity="0.5"/>
<rect x="1819.4" y="360.0" width="22.8" height="287.0" fill="url(#gBag)" />
<rect x="1819.9" y="645.0" width="21.8" height="2.3" fill="#d8d8d8" />
<rect x="1819.9" y="644.0" width="21.8" height="1.0" fill="#8a8a8a" />
<rect x="1825.2" y="305.0" width="11.4" height="11.0" fill="url(#gRedV)" />
<g transform="translate(1832.4,354) rotate(40)"><rect x="-5.8" y="-25" width="11.6" height="25" fill="url(#gPipeW)"/><rect x="-6.2" y="-27.2" width="12.4" height="2.6" fill="#4a4a4a"/></g>
<rect x="1824.0" y="323.0" width="12.8" height="32.0" fill="url(#gPipeW)" />
<rect x="1819.4" y="315.4" width="22.8" height="9.0" fill="url(#gPipeW)" />
<rect x="1819.4" y="318.2" width="22.8" height="1.0" fill="#ffffff" opacity="0.45"/>
<rect x="1819.4" y="354.0" width="22.8" height="8.4" fill="url(#gPipeW)" />
<rect x="1819.4" y="357.6" width="22.8" height="1.0" fill="#777" opacity="0.5"/>
<rect x="1858.7" y="360.0" width="22.8" height="287.0" fill="url(#gBag)" />
<ellipse cx="1870.1" cy="422" rx="8.5" ry="46" fill="#ffffff" opacity="0.42" filter="url(#fBlur3)"/>
<rect x="1859.2" y="645.0" width="21.8" height="2.3" fill="#d8d8d8" />
<rect x="1859.2" y="644.0" width="21.8" height="1.0" fill="#8a8a8a" />
<rect x="1864.5" y="305.0" width="11.4" height="11.0" fill="url(#gRedV)" />
<g transform="translate(1871.7,354) rotate(40)"><rect x="-5.8" y="-25" width="11.6" height="25" fill="url(#gPipeG)"/><rect x="-6.2" y="-27.2" width="12.4" height="2.6" fill="#0a4a16"/></g>
<rect x="1863.3" y="323.0" width="12.8" height="32.0" fill="url(#gPipeG)" />
<rect x="1858.7" y="315.4" width="22.8" height="9.0" fill="url(#gPipeG)" />
<rect x="1858.7" y="318.2" width="22.8" height="1.0" fill="#ffffff" opacity="0.45"/>
<rect x="1858.7" y="354.0" width="22.8" height="8.4" fill="url(#gPipeW)" />
<rect x="1858.7" y="357.6" width="22.8" height="1.0" fill="#777" opacity="0.5"/>
<path d="M1078.0,170.0 L1078.0,291.3 A9.0,9.0 0 0 0 1087.0,300.3 L1887.0,300.3" fill="none" stroke="#7c2b1e" stroke-width="15.4" stroke-linecap="butt" stroke-linejoin="round"/>
<path d="M1078.0,170.0 L1078.0,291.3 A9.0,9.0 0 0 0 1087.0,300.3 L1887.0,300.3" fill="none" stroke="#983526" stroke-width="13.6" stroke-linecap="butt" stroke-linejoin="round"/>
<path d="M1078.0,170.0 L1078.0,291.3 A9.0,9.0 0 0 0 1087.0,300.3 L1887.0,300.3" fill="none" stroke="#b44132" stroke-width="11.1" stroke-linecap="butt" stroke-linejoin="round"/>
<path d="M1078.0,170.0 L1078.0,291.3 A9.0,9.0 0 0 0 1087.0,300.3 L1887.0,300.3" fill="none" stroke="#c64d3b" stroke-width="7.7" stroke-linecap="butt" stroke-linejoin="round" transform="translate(-0.9,-0.9)"/>
<path d="M1078.0,170.0 L1078.0,291.3 A9.0,9.0 0 0 0 1087.0,300.3 L1887.0,300.3" fill="none" stroke="#d65a48" stroke-width="3.7" stroke-linecap="butt" stroke-linejoin="round" transform="translate(-0.9,-0.9)"/>
<path d="M1029.0,692.0 L1110.0,692.0" fill="none" stroke="#7c2b1e" stroke-width="15.0" stroke-linecap="butt" stroke-linejoin="round"/>
<path d="M1029.0,692.0 L1110.0,692.0" fill="none" stroke="#983526" stroke-width="13.2" stroke-linecap="butt" stroke-linejoin="round"/>
<path d="M1029.0,692.0 L1110.0,692.0" fill="none" stroke="#b44132" stroke-width="10.8" stroke-linecap="butt" stroke-linejoin="round"/>
<path d="M1029.0,692.0 L1110.0,692.0" fill="none" stroke="#c64d3b" stroke-width="7.5" stroke-linecap="butt" stroke-linejoin="round" transform="translate(-0.9,-0.9)"/>
<path d="M1029.0,692.0 L1110.0,692.0" fill="none" stroke="#d65a48" stroke-width="3.6" stroke-linecap="butt" stroke-linejoin="round" transform="translate(-0.9,-0.9)"/>
<path d="M1746.0,121.0 L1344.8,121.0 A9.0,9.0 0 0 0 1335.8,130.0 L1335.8,208.0" fill="none" stroke="#7c2b1e" stroke-width="16.0" stroke-linecap="butt" stroke-linejoin="round"/>
<path d="M1746.0,121.0 L1344.8,121.0 A9.0,9.0 0 0 0 1335.8,130.0 L1335.8,208.0" fill="none" stroke="#983526" stroke-width="14.1" stroke-linecap="butt" stroke-linejoin="round"/>
<path d="M1746.0,121.0 L1344.8,121.0 A9.0,9.0 0 0 0 1335.8,130.0 L1335.8,208.0" fill="none" stroke="#b44132" stroke-width="11.5" stroke-linecap="butt" stroke-linejoin="round"/>
<path d="M1746.0,121.0 L1344.8,121.0 A9.0,9.0 0 0 0 1335.8,130.0 L1335.8,208.0" fill="none" stroke="#c64d3b" stroke-width="8.0" stroke-linecap="butt" stroke-linejoin="round" transform="translate(-0.9,-0.9)"/>
<path d="M1746.0,121.0 L1344.8,121.0 A9.0,9.0 0 0 0 1335.8,130.0 L1335.8,208.0" fill="none" stroke="#d65a48" stroke-width="3.8" stroke-linecap="butt" stroke-linejoin="round" transform="translate(-0.9,-0.9)"/>
<path d="M1663.5,122.0 L1663.5,208.0" fill="none" stroke="#7c2b1e" stroke-width="16.0" stroke-linecap="butt" stroke-linejoin="round"/>
<path d="M1663.5,122.0 L1663.5,208.0" fill="none" stroke="#983526" stroke-width="14.1" stroke-linecap="butt" stroke-linejoin="round"/>
<path d="M1663.5,122.0 L1663.5,208.0" fill="none" stroke="#b44132" stroke-width="11.5" stroke-linecap="butt" stroke-linejoin="round"/>
<path d="M1663.5,122.0 L1663.5,208.0" fill="none" stroke="#c64d3b" stroke-width="8.0" stroke-linecap="butt" stroke-linejoin="round" transform="translate(-0.9,-0.9)"/>
<path d="M1663.5,122.0 L1663.5,208.0" fill="none" stroke="#d65a48" stroke-width="3.8" stroke-linecap="butt" stroke-linejoin="round" transform="translate(-0.9,-0.9)"/>
<path d="M1289.0,906.0 L1289.0,982.0" fill="none" stroke="#7c2b1e" stroke-width="16.0" stroke-linecap="butt" stroke-linejoin="round"/>
<path d="M1289.0,906.0 L1289.0,982.0" fill="none" stroke="#983526" stroke-width="14.1" stroke-linecap="butt" stroke-linejoin="round"/>
<path d="M1289.0,906.0 L1289.0,982.0" fill="none" stroke="#b44132" stroke-width="11.5" stroke-linecap="butt" stroke-linejoin="round"/>
<path d="M1289.0,906.0 L1289.0,982.0" fill="none" stroke="#c64d3b" stroke-width="8.0" stroke-linecap="butt" stroke-linejoin="round" transform="translate(-0.9,-0.9)"/>
<path d="M1289.0,906.0 L1289.0,982.0" fill="none" stroke="#d65a48" stroke-width="3.8" stroke-linecap="butt" stroke-linejoin="round" transform="translate(-0.9,-0.9)"/>
<path d="M1697.6,906.0 L1697.6,982.0" fill="none" stroke="#7c2b1e" stroke-width="16.0" stroke-linecap="butt" stroke-linejoin="round"/>
<path d="M1697.6,906.0 L1697.6,982.0" fill="none" stroke="#983526" stroke-width="14.1" stroke-linecap="butt" stroke-linejoin="round"/>
<path d="M1697.6,906.0 L1697.6,982.0" fill="none" stroke="#b44132" stroke-width="11.5" stroke-linecap="butt" stroke-linejoin="round"/>
<path d="M1697.6,906.0 L1697.6,982.0" fill="none" stroke="#c64d3b" stroke-width="8.0" stroke-linecap="butt" stroke-linejoin="round" transform="translate(-0.9,-0.9)"/>
<path d="M1697.6,906.0 L1697.6,982.0" fill="none" stroke="#d65a48" stroke-width="3.8" stroke-linecap="butt" stroke-linejoin="round" transform="translate(-0.9,-0.9)"/>
<g transform="translate(1335.8,172.5)">
<rect x="-10.5" y="-16.5" width="21" height="33" rx="2" fill="#c4c4c4"/>
<rect x="-6" y="-16.5" width="6" height="33" fill="#f2f2f2" opacity="0.75"/>
<rect x="6.5" y="-16.5" width="4" height="33" fill="#8c8c8c" opacity="0.6"/>
<rect x="-11.5" y="-6" width="23" height="2" fill="#8c8c8c" opacity="0.55"/>
<rect x="-11.5" y="4.5" width="23" height="2" fill="#8c8c8c" opacity="0.55"/>
<rect x="10" y="-4.5" width="12" height="9" fill="#8c8c8c"/>
<circle cx="15" cy="-3" r="1.4" fill="#f2f2f2"/><circle cx="15" cy="3.5" r="1.4" fill="#f2f2f2"/>
<rect x="20.3" y="-9" width="8" height="18" rx="3" fill="#1a30e0"/>
<rect x="28" y="-4" width="6" height="8" fill="#6e6e6e"/>
<rect x="32" y="-10.5" width="12" height="21" rx="1" fill="#9a9a9a"/>
<rect x="34" y="-10.5" width="3" height="21" fill="#f2f2f2" opacity="0.45"/>
<path d="M44,-6 Q49,-5 49,0 Q49,5 44,6 Z" fill="#9a9a9a"/>
<circle cx="37.5" cy="5" r="1.3" fill="#1a30e0"/>
<path d="M33,-10.5 V-13 Q33,-14.5 35,-14.5 H40" fill="none" stroke="#b0b0b0" stroke-width="1.2"/>
</g>
<g transform="translate(1663.5,172.5)">
<rect x="-10.5" y="-16.5" width="21" height="33" rx="2" fill="#c4c4c4"/>
<rect x="-6" y="-16.5" width="6" height="33" fill="#f2f2f2" opacity="0.75"/>
<rect x="6.5" y="-16.5" width="4" height="33" fill="#8c8c8c" opacity="0.6"/>
<rect x="-11.5" y="-6" width="23" height="2" fill="#8c8c8c" opacity="0.55"/>
<rect x="-11.5" y="4.5" width="23" height="2" fill="#8c8c8c" opacity="0.55"/>
<rect x="10" y="-4.5" width="12" height="9" fill="#8c8c8c"/>
<circle cx="15" cy="-3" r="1.4" fill="#f2f2f2"/><circle cx="15" cy="3.5" r="1.4" fill="#f2f2f2"/>
<rect x="20.3" y="-9" width="8" height="18" rx="3" fill="#1a30e0"/>
<rect x="28" y="-4" width="6" height="8" fill="#6e6e6e"/>
<rect x="32" y="-10.5" width="12" height="21" rx="1" fill="#9a9a9a"/>
<rect x="34" y="-10.5" width="3" height="21" fill="#f2f2f2" opacity="0.45"/>
<path d="M44,-6 Q49,-5 49,0 Q49,5 44,6 Z" fill="#9a9a9a"/>
<circle cx="37.5" cy="5" r="1.3" fill="#1a30e0"/>
<path d="M33,-10.5 V-13 Q33,-14.5 35,-14.5 H40" fill="none" stroke="#b0b0b0" stroke-width="1.2"/>
</g>
<g transform="translate(1289.0,944.7)">
<rect x="-10.5" y="-16.5" width="21" height="33" rx="2" fill="#c4c4c4"/>
<rect x="-6" y="-16.5" width="6" height="33" fill="#f2f2f2" opacity="0.75"/>
<rect x="6.5" y="-16.5" width="4" height="33" fill="#8c8c8c" opacity="0.6"/>
<rect x="-11.5" y="-6" width="23" height="2" fill="#8c8c8c" opacity="0.55"/>
<rect x="-11.5" y="4.5" width="23" height="2" fill="#8c8c8c" opacity="0.55"/>
<rect x="10" y="-4.5" width="12" height="9" fill="#8c8c8c"/>
<circle cx="15" cy="-3" r="1.4" fill="#f2f2f2"/><circle cx="15" cy="3.5" r="1.4" fill="#f2f2f2"/>
<rect x="20.3" y="-9" width="8" height="18" rx="3" fill="#1a30e0"/>
<rect x="28" y="-4" width="6" height="8" fill="#6e6e6e"/>
<rect x="32" y="-10.5" width="12" height="21" rx="1" fill="#9a9a9a"/>
<rect x="34" y="-10.5" width="3" height="21" fill="#f2f2f2" opacity="0.45"/>
<path d="M44,-6 Q49,-5 49,0 Q49,5 44,6 Z" fill="#9a9a9a"/>
<circle cx="37.5" cy="5" r="1.3" fill="#1a30e0"/>
<path d="M33,-10.5 V-13 Q33,-14.5 35,-14.5 H40" fill="none" stroke="#b0b0b0" stroke-width="1.2"/>
</g>
<g transform="translate(1697.6,944.7)">
<rect x="-10.5" y="-16.5" width="21" height="33" rx="2" fill="#c4c4c4"/>
<rect x="-6" y="-16.5" width="6" height="33" fill="#f2f2f2" opacity="0.75"/>
<rect x="6.5" y="-16.5" width="4" height="33" fill="#8c8c8c" opacity="0.6"/>
<rect x="-11.5" y="-6" width="23" height="2" fill="#8c8c8c" opacity="0.55"/>
<rect x="-11.5" y="4.5" width="23" height="2" fill="#8c8c8c" opacity="0.55"/>
<rect x="10" y="-4.5" width="12" height="9" fill="#8c8c8c"/>
<circle cx="15" cy="-3" r="1.4" fill="#f2f2f2"/><circle cx="15" cy="3.5" r="1.4" fill="#f2f2f2"/>
<rect x="20.3" y="-9" width="8" height="18" rx="3" fill="#1a30e0"/>
<rect x="28" y="-4" width="6" height="8" fill="#6e6e6e"/>
<rect x="32" y="-10.5" width="12" height="21" rx="1" fill="#9a9a9a"/>
<rect x="34" y="-10.5" width="3" height="21" fill="#f2f2f2" opacity="0.45"/>
<path d="M44,-6 Q49,-5 49,0 Q49,5 44,6 Z" fill="#9a9a9a"/>
<circle cx="37.5" cy="5" r="1.3" fill="#1a30e0"/>
<path d="M33,-10.5 V-13 Q33,-14.5 35,-14.5 H40" fill="none" stroke="#b0b0b0" stroke-width="1.2"/>
</g>
<!-- p60_widgets -->
<rect x="29.4" y="91.5" width="178.4" height="28.8" fill="#7889aa" opacity="0.92"/>
<rect x="7.6" y="121.7" width="200.2" height="38.1" fill="#7f90b2" stroke="#a3b3d2" stroke-width="1.2"/>
<text x="38.6" y="111.8" font-size="16" fill="#fff" text-anchor="start" textLength="128.4" lengthAdjust="spacingAndGlyphs" class="b" >Nhiệt vào khoang</text>
<text x="182.6" y="111.5" font-size="12.5" fill="#fff" text-anchor="start" textLength="19.7" lengthAdjust="spacingAndGlyphs" >[°C]</text>
<rect x="12.4" y="127.7" width="190.5" height="26.4" fill="#98a4bc" opacity="0.7"/>
<rect x="13.0" y="128.3" width="189.3" height="25.0" fill="url(#gGauge)" />
<rect x="13.0" y="128.3" width="10.7" height="25.0" fill="url(#gGaugeCap)" />
<rect x="191.6" y="128.3" width="10.7" height="25.0" fill="url(#gGaugeCap)" />
<rect x="23.7" y="128.3" width="14.2" height="25.0" fill="url(#gOrangeBar)" />
<text x="108.2" y="141.5" font-size="15" fill="#0a0a0a" text-anchor="middle" class="m" >84</text>
<text x="24.7" y="151.7" font-size="9.3" fill="#111" text-anchor="middle" >0</text>
<rect x="24.3" y="152.7" width="0.8" height="2.8" fill="#5a6474" />
<text x="66.4" y="151.7" font-size="9.3" fill="#111" text-anchor="middle" >250</text>
<rect x="66.0" y="152.7" width="0.8" height="2.8" fill="#5a6474" />
<text x="108.0" y="151.7" font-size="9.3" fill="#111" text-anchor="middle" >500</text>
<rect x="107.6" y="152.7" width="0.8" height="2.8" fill="#5a6474" />
<text x="149.7" y="151.7" font-size="9.3" fill="#111" text-anchor="middle" >750</text>
<rect x="149.2" y="152.7" width="0.8" height="2.8" fill="#5a6474" />
<text x="191.3" y="151.7" font-size="9.3" fill="#111" text-anchor="middle" >1000</text>
<rect x="190.9" y="152.7" width="0.8" height="2.8" fill="#5a6474" />
<rect x="481.0" y="222.3" width="159.0" height="28.8" fill="#7889aa" opacity="0.92"/>
<rect x="459.4" y="252.5" width="180.6" height="38.1" fill="#7f90b2" stroke="#a3b3d2" stroke-width="1.2"/>
<text x="500.0" y="242.6" font-size="16" fill="#fff" text-anchor="start" textLength="90.0" lengthAdjust="spacingAndGlyphs" class="b" >Nhiệt đầu ra</text>
<text x="614.0" y="242.3" font-size="12.5" fill="#fff" text-anchor="start" textLength="20.6" lengthAdjust="spacingAndGlyphs" >[°C]</text>
<rect x="464.4" y="258.2" width="170.2" height="26.4" fill="#98a4bc" opacity="0.7"/>
<rect x="465.0" y="258.8" width="169.0" height="25.0" fill="url(#gGauge)" />
<rect x="465.0" y="258.8" width="10.7" height="25.0" fill="url(#gGaugeCap)" />
<rect x="623.3" y="258.8" width="10.7" height="25.0" fill="url(#gGaugeCap)" />
<rect x="475.7" y="258.8" width="12.4" height="25.0" fill="url(#gOrangeBar)" />
<text x="550.0" y="272.0" font-size="15" fill="#0a0a0a" text-anchor="middle" class="m" >84</text>
<text x="476.7" y="282.2" font-size="9.3" fill="#111" text-anchor="middle" >0</text>
<rect x="476.3" y="283.2" width="0.8" height="2.8" fill="#5a6474" />
<text x="513.3" y="282.2" font-size="9.3" fill="#111" text-anchor="middle" >250</text>
<rect x="512.9" y="283.2" width="0.8" height="2.8" fill="#5a6474" />
<text x="549.9" y="282.2" font-size="9.3" fill="#111" text-anchor="middle" >500</text>
<rect x="549.5" y="283.2" width="0.8" height="2.8" fill="#5a6474" />
<text x="586.4" y="282.2" font-size="9.3" fill="#111" text-anchor="middle" >750</text>
<rect x="586.0" y="283.2" width="0.8" height="2.8" fill="#5a6474" />
<text x="623.0" y="282.2" font-size="9.3" fill="#111" text-anchor="middle" >1000</text>
<rect x="622.6" y="283.2" width="0.8" height="2.8" fill="#5a6474" />
<rect x="99.5" y="473.2" width="158.5" height="28.8" fill="#7889aa" opacity="0.92"/>
<rect x="77.0" y="503.4" width="181.0" height="38.1" fill="#7f90b2" stroke="#a3b3d2" stroke-width="1.2"/>
<text x="111.5" y="493.5" font-size="16" fill="#fff" text-anchor="start" textLength="103.0" lengthAdjust="spacingAndGlyphs" class="b" >Nhiệt đầu vào</text>
<text x="231.5" y="493.2" font-size="12.5" fill="#fff" text-anchor="start" textLength="20.8" lengthAdjust="spacingAndGlyphs" >[°C]</text>
<rect x="82.4" y="510.2" width="170.2" height="26.4" fill="#98a4bc" opacity="0.7"/>
<rect x="83.0" y="510.8" width="169.0" height="25.0" fill="url(#gGauge)" />
<rect x="83.0" y="510.8" width="10.7" height="25.0" fill="url(#gGaugeCap)" />
<rect x="241.3" y="510.8" width="10.7" height="25.0" fill="url(#gGaugeCap)" />
<rect x="93.7" y="510.8" width="12.4" height="25.0" fill="url(#gOrangeBar)" />
<text x="168.0" y="524.0" font-size="15" fill="#0a0a0a" text-anchor="middle" class="m" >84</text>
<text x="94.7" y="534.2" font-size="9.3" fill="#111" text-anchor="middle" >0</text>
<rect x="94.3" y="535.2" width="0.8" height="2.8" fill="#5a6474" />
<text x="131.3" y="534.2" font-size="9.3" fill="#111" text-anchor="middle" >250</text>
<rect x="130.9" y="535.2" width="0.8" height="2.8" fill="#5a6474" />
<text x="167.9" y="534.2" font-size="9.3" fill="#111" text-anchor="middle" >500</text>
<rect x="167.5" y="535.2" width="0.8" height="2.8" fill="#5a6474" />
<text x="204.4" y="534.2" font-size="9.3" fill="#111" text-anchor="middle" >750</text>
<rect x="204.0" y="535.2" width="0.8" height="2.8" fill="#5a6474" />
<text x="241.0" y="534.2" font-size="9.3" fill="#111" text-anchor="middle" >1000</text>
<rect x="240.6" y="535.2" width="0.8" height="2.8" fill="#5a6474" />
<g transform="translate(0,0)">
<rect x="502.0" y="414.0" width="258.5" height="27.0" fill="#7889aa" opacity="0.92"/>
<rect x="480.3" y="441.8" width="280.0" height="106.2" fill="#7788a9" stroke="#a3b3d2" stroke-width="1.2"/>
<text x="548.0" y="434.2" font-size="16" fill="#fff" text-anchor="start" textLength="156.5" lengthAdjust="spacingAndGlyphs" class="b" >Quạt tháp xử lý chính</text>
<text x="490.5" y="467.6" font-size="14.5" fill="#fff" text-anchor="start" textLength="42.0" lengthAdjust="spacingAndGlyphs" class="b" >Tốc độ</text>
<rect x="565.4" y="449.4" width="152.0" height="27.2" fill="#98a4bc" opacity="0.7"/>
<rect x="566.0" y="450.0" width="150.8" height="25.8" fill="url(#gGauge)" />
<rect x="566.0" y="450.0" width="10.6" height="25.8" fill="url(#gGaugeCap)" />
<rect x="706.2" y="450.0" width="10.6" height="25.8" fill="url(#gGaugeCap)" />
<rect x="576.6" y="450.0" width="106.4" height="25.8" fill="url(#gGreenBar)" />
<text x="641.9" y="463.2" font-size="15" fill="#0a0a0a" text-anchor="middle" class="m" >1247</text>
<text x="577.2" y="474.2" font-size="9.3" fill="#111" text-anchor="middle" >0</text>
<rect x="576.8" y="475.2" width="0.8" height="2.8" fill="#5a6474" />
<text x="609.4" y="474.2" font-size="9.3" fill="#111" text-anchor="middle" >375</text>
<rect x="609.0" y="475.2" width="0.8" height="2.8" fill="#5a6474" />
<text x="641.5" y="474.2" font-size="9.3" fill="#111" text-anchor="middle" >750</text>
<rect x="641.1" y="475.2" width="0.8" height="2.8" fill="#5a6474" />
<text x="673.7" y="474.2" font-size="9.3" fill="#111" text-anchor="middle" >1125</text>
<rect x="673.3" y="475.2" width="0.8" height="2.8" fill="#5a6474" />
<text x="705.8" y="474.2" font-size="9.3" fill="#111" text-anchor="middle" >1500</text>
<rect x="705.4" y="475.2" width="0.8" height="2.8" fill="#5a6474" />
<text x="719.7" y="467.3" font-size="12.5" fill="#fff" text-anchor="start" textLength="32.3" lengthAdjust="spacingAndGlyphs" class="b" >[RPM]</text>
<text x="490.5" y="499.6" font-size="14.5" fill="#fff" text-anchor="start" textLength="49.0" lengthAdjust="spacingAndGlyphs" class="b" >Điện áp</text>
<rect x="565.4" y="481.4" width="152.0" height="27.2" fill="#98a4bc" opacity="0.7"/>
<rect x="566.0" y="482.0" width="150.8" height="25.8" fill="url(#gGauge)" />
<rect x="566.0" y="482.0" width="10.6" height="25.8" fill="url(#gGaugeCap)" />
<rect x="706.2" y="482.0" width="10.6" height="25.8" fill="url(#gGaugeCap)" />
<text x="641.9" y="495.2" font-size="15" fill="#0a0a0a" text-anchor="middle" class="m" >1</text>
<text x="577.2" y="506.2" font-size="9.3" fill="#111" text-anchor="middle" >0</text>
<rect x="576.8" y="507.2" width="0.8" height="2.8" fill="#5a6474" />
<text x="609.4" y="506.2" font-size="9.3" fill="#111" text-anchor="middle" >125</text>
<rect x="609.0" y="507.2" width="0.8" height="2.8" fill="#5a6474" />
<text x="641.5" y="506.2" font-size="9.3" fill="#111" text-anchor="middle" >250</text>
<rect x="641.1" y="507.2" width="0.8" height="2.8" fill="#5a6474" />
<text x="673.7" y="506.2" font-size="9.3" fill="#111" text-anchor="middle" >375</text>
<rect x="673.3" y="507.2" width="0.8" height="2.8" fill="#5a6474" />
<text x="705.8" y="506.2" font-size="9.3" fill="#111" text-anchor="middle" >500</text>
<rect x="705.4" y="507.2" width="0.8" height="2.8" fill="#5a6474" />
<text x="729.5" y="499.3" font-size="12.5" fill="#fff" text-anchor="start" textLength="13.5" lengthAdjust="spacingAndGlyphs" class="b" >[V]</text>
<text x="490.5" y="531.6" font-size="14.5" fill="#fff" text-anchor="start" textLength="66.5" lengthAdjust="spacingAndGlyphs" class="b" >Dòng điện</text>
<rect x="565.4" y="513.4" width="152.0" height="27.2" fill="#98a4bc" opacity="0.7"/>
<rect x="566.0" y="514.0" width="150.8" height="25.8" fill="url(#gGauge)" />
<rect x="566.0" y="514.0" width="10.6" height="25.8" fill="url(#gGaugeCap)" />
<rect x="706.2" y="514.0" width="10.6" height="25.8" fill="url(#gGaugeCap)" />
<text x="641.9" y="527.2" font-size="15" fill="#0a0a0a" text-anchor="middle" class="m" >1.0</text>
<text x="577.2" y="538.2" font-size="9.3" fill="#111" text-anchor="middle" >0</text>
<rect x="576.8" y="539.2" width="0.8" height="2.8" fill="#5a6474" />
<text x="609.4" y="538.2" font-size="9.3" fill="#111" text-anchor="middle" >25</text>
<rect x="609.0" y="539.2" width="0.8" height="2.8" fill="#5a6474" />
<text x="641.5" y="538.2" font-size="9.3" fill="#111" text-anchor="middle" >50</text>
<rect x="641.1" y="539.2" width="0.8" height="2.8" fill="#5a6474" />
<text x="673.7" y="538.2" font-size="9.3" fill="#111" text-anchor="middle" >75</text>
<rect x="673.3" y="539.2" width="0.8" height="2.8" fill="#5a6474" />
<text x="705.8" y="538.2" font-size="9.3" fill="#111" text-anchor="middle" >100</text>
<rect x="705.4" y="539.2" width="0.8" height="2.8" fill="#5a6474" />
<text x="729.5" y="531.3" font-size="12.5" fill="#fff" text-anchor="start" textLength="13.5" lengthAdjust="spacingAndGlyphs" class="b" >[A]</text>
</g>
<g transform="translate(10,322)">
<rect x="502.0" y="411.6" width="258.5" height="29.4" fill="#7889aa" opacity="0.92"/>
<rect x="480.3" y="441.8" width="280.0" height="106.2" fill="#7788a9" stroke="#a3b3d2" stroke-width="1.2"/>
<text x="570.0" y="432.6" font-size="16" fill="#fff" text-anchor="start" textLength="114.0" lengthAdjust="spacingAndGlyphs" class="b" >Quạt hút nhà xỉ</text>
<text x="490.5" y="467.6" font-size="14.5" fill="#fff" text-anchor="start" textLength="42.0" lengthAdjust="spacingAndGlyphs" class="b" >Tốc độ</text>
<rect x="565.4" y="449.4" width="152.0" height="27.2" fill="#98a4bc" opacity="0.7"/>
<rect x="566.0" y="450.0" width="150.8" height="25.8" fill="url(#gGauge)" />
<rect x="566.0" y="450.0" width="10.6" height="25.8" fill="url(#gGaugeCap)" />
<rect x="706.2" y="450.0" width="10.6" height="25.8" fill="url(#gGaugeCap)" />
<rect x="576.6" y="450.0" width="106.4" height="25.8" fill="url(#gGreenBar)" />
<text x="641.9" y="463.2" font-size="15" fill="#0a0a0a" text-anchor="middle" class="m" >1247</text>
<text x="577.2" y="474.2" font-size="9.3" fill="#111" text-anchor="middle" >0</text>
<rect x="576.8" y="475.2" width="0.8" height="2.8" fill="#5a6474" />
<text x="609.4" y="474.2" font-size="9.3" fill="#111" text-anchor="middle" >375</text>
<rect x="609.0" y="475.2" width="0.8" height="2.8" fill="#5a6474" />
<text x="641.5" y="474.2" font-size="9.3" fill="#111" text-anchor="middle" >750</text>
<rect x="641.1" y="475.2" width="0.8" height="2.8" fill="#5a6474" />
<text x="673.7" y="474.2" font-size="9.3" fill="#111" text-anchor="middle" >1125</text>
<rect x="673.3" y="475.2" width="0.8" height="2.8" fill="#5a6474" />
<text x="705.8" y="474.2" font-size="9.3" fill="#111" text-anchor="middle" >1500</text>
<rect x="705.4" y="475.2" width="0.8" height="2.8" fill="#5a6474" />
<text x="719.7" y="467.3" font-size="12.5" fill="#fff" text-anchor="start" textLength="32.3" lengthAdjust="spacingAndGlyphs" class="b" >[RPM]</text>
<text x="490.5" y="499.6" font-size="14.5" fill="#fff" text-anchor="start" textLength="49.0" lengthAdjust="spacingAndGlyphs" class="b" >Điện áp</text>
<rect x="565.4" y="481.4" width="152.0" height="27.2" fill="#98a4bc" opacity="0.7"/>
<rect x="566.0" y="482.0" width="150.8" height="25.8" fill="url(#gGauge)" />
<rect x="566.0" y="482.0" width="10.6" height="25.8" fill="url(#gGaugeCap)" />
<rect x="706.2" y="482.0" width="10.6" height="25.8" fill="url(#gGaugeCap)" />
<text x="641.9" y="495.2" font-size="15" fill="#0a0a0a" text-anchor="middle" class="m" >1</text>
<text x="577.2" y="506.2" font-size="9.3" fill="#111" text-anchor="middle" >0</text>
<rect x="576.8" y="507.2" width="0.8" height="2.8" fill="#5a6474" />
<text x="609.4" y="506.2" font-size="9.3" fill="#111" text-anchor="middle" >125</text>
<rect x="609.0" y="507.2" width="0.8" height="2.8" fill="#5a6474" />
<text x="641.5" y="506.2" font-size="9.3" fill="#111" text-anchor="middle" >250</text>
<rect x="641.1" y="507.2" width="0.8" height="2.8" fill="#5a6474" />
<text x="673.7" y="506.2" font-size="9.3" fill="#111" text-anchor="middle" >375</text>
<rect x="673.3" y="507.2" width="0.8" height="2.8" fill="#5a6474" />
<text x="705.8" y="506.2" font-size="9.3" fill="#111" text-anchor="middle" >500</text>
<rect x="705.4" y="507.2" width="0.8" height="2.8" fill="#5a6474" />
<text x="729.5" y="499.3" font-size="12.5" fill="#fff" text-anchor="start" textLength="13.5" lengthAdjust="spacingAndGlyphs" class="b" >[V]</text>
<text x="490.5" y="531.6" font-size="14.5" fill="#fff" text-anchor="start" textLength="66.5" lengthAdjust="spacingAndGlyphs" class="b" >Dòng điện</text>
<rect x="565.4" y="513.4" width="152.0" height="27.2" fill="#98a4bc" opacity="0.7"/>
<rect x="566.0" y="514.0" width="150.8" height="25.8" fill="url(#gGauge)" />
<rect x="566.0" y="514.0" width="10.6" height="25.8" fill="url(#gGaugeCap)" />
<rect x="706.2" y="514.0" width="10.6" height="25.8" fill="url(#gGaugeCap)" />
<text x="641.9" y="527.2" font-size="15" fill="#0a0a0a" text-anchor="middle" class="m" >1.0</text>
<text x="577.2" y="538.2" font-size="9.3" fill="#111" text-anchor="middle" >0</text>
<rect x="576.8" y="539.2" width="0.8" height="2.8" fill="#5a6474" />
<text x="609.4" y="538.2" font-size="9.3" fill="#111" text-anchor="middle" >25</text>
<rect x="609.0" y="539.2" width="0.8" height="2.8" fill="#5a6474" />
<text x="641.5" y="538.2" font-size="9.3" fill="#111" text-anchor="middle" >50</text>
<rect x="641.1" y="539.2" width="0.8" height="2.8" fill="#5a6474" />
<text x="673.7" y="538.2" font-size="9.3" fill="#111" text-anchor="middle" >75</text>
<rect x="673.3" y="539.2" width="0.8" height="2.8" fill="#5a6474" />
<text x="705.8" y="538.2" font-size="9.3" fill="#111" text-anchor="middle" >100</text>
<rect x="705.4" y="539.2" width="0.8" height="2.8" fill="#5a6474" />
<text x="729.5" y="531.3" font-size="12.5" fill="#fff" text-anchor="start" textLength="13.5" lengthAdjust="spacingAndGlyphs" class="b" >[A]</text>
</g>
<g transform="translate(-342,442)">
<rect x="502.0" y="413.0" width="258.5" height="28.0" fill="#7889aa" opacity="0.92"/>
<rect x="480.3" y="441.8" width="280.0" height="106.2" fill="#7788a9" stroke="#a3b3d2" stroke-width="1.2"/>
<text x="562.0" y="433.6" font-size="16" fill="#fff" text-anchor="start" textLength="129.5" lengthAdjust="spacingAndGlyphs" class="b" >Quạt hút máy cán</text>
<text x="490.5" y="467.6" font-size="14.5" fill="#fff" text-anchor="start" textLength="42.0" lengthAdjust="spacingAndGlyphs" class="b" >Tốc độ</text>
<rect x="565.4" y="449.4" width="152.0" height="27.2" fill="#98a4bc" opacity="0.7"/>
<rect x="566.0" y="450.0" width="150.8" height="25.8" fill="url(#gGauge)" />
<rect x="566.0" y="450.0" width="10.6" height="25.8" fill="url(#gGaugeCap)" />
<rect x="706.2" y="450.0" width="10.6" height="25.8" fill="url(#gGaugeCap)" />
<rect x="576.6" y="450.0" width="106.4" height="25.8" fill="url(#gGreenBar)" />
<text x="641.9" y="463.2" font-size="15" fill="#0a0a0a" text-anchor="middle" class="m" >1247</text>
<text x="577.2" y="474.2" font-size="9.3" fill="#111" text-anchor="middle" >0</text>
<rect x="576.8" y="475.2" width="0.8" height="2.8" fill="#5a6474" />
<text x="609.4" y="474.2" font-size="9.3" fill="#111" text-anchor="middle" >375</text>
<rect x="609.0" y="475.2" width="0.8" height="2.8" fill="#5a6474" />
<text x="641.5" y="474.2" font-size="9.3" fill="#111" text-anchor="middle" >750</text>
<rect x="641.1" y="475.2" width="0.8" height="2.8" fill="#5a6474" />
<text x="673.7" y="474.2" font-size="9.3" fill="#111" text-anchor="middle" >1125</text>
<rect x="673.3" y="475.2" width="0.8" height="2.8" fill="#5a6474" />
<text x="705.8" y="474.2" font-size="9.3" fill="#111" text-anchor="middle" >1500</text>
<rect x="705.4" y="475.2" width="0.8" height="2.8" fill="#5a6474" />
<text x="719.7" y="467.3" font-size="12.5" fill="#fff" text-anchor="start" textLength="32.3" lengthAdjust="spacingAndGlyphs" class="b" >[RPM]</text>
<text x="490.5" y="499.6" font-size="14.5" fill="#fff" text-anchor="start" textLength="49.0" lengthAdjust="spacingAndGlyphs" class="b" >Điện áp</text>
<rect x="565.4" y="481.4" width="152.0" height="27.2" fill="#98a4bc" opacity="0.7"/>
<rect x="566.0" y="482.0" width="150.8" height="25.8" fill="url(#gGauge)" />
<rect x="566.0" y="482.0" width="10.6" height="25.8" fill="url(#gGaugeCap)" />
<rect x="706.2" y="482.0" width="10.6" height="25.8" fill="url(#gGaugeCap)" />
<text x="641.9" y="495.2" font-size="15" fill="#0a0a0a" text-anchor="middle" class="m" >1</text>
<text x="577.2" y="506.2" font-size="9.3" fill="#111" text-anchor="middle" >0</text>
<rect x="576.8" y="507.2" width="0.8" height="2.8" fill="#5a6474" />
<text x="609.4" y="506.2" font-size="9.3" fill="#111" text-anchor="middle" >125</text>
<rect x="609.0" y="507.2" width="0.8" height="2.8" fill="#5a6474" />
<text x="641.5" y="506.2" font-size="9.3" fill="#111" text-anchor="middle" >250</text>
<rect x="641.1" y="507.2" width="0.8" height="2.8" fill="#5a6474" />
<text x="673.7" y="506.2" font-size="9.3" fill="#111" text-anchor="middle" >375</text>
<rect x="673.3" y="507.2" width="0.8" height="2.8" fill="#5a6474" />
<text x="705.8" y="506.2" font-size="9.3" fill="#111" text-anchor="middle" >500</text>
<rect x="705.4" y="507.2" width="0.8" height="2.8" fill="#5a6474" />
<text x="729.5" y="499.3" font-size="12.5" fill="#fff" text-anchor="start" textLength="13.5" lengthAdjust="spacingAndGlyphs" class="b" >[V]</text>
<text x="490.5" y="531.6" font-size="14.5" fill="#fff" text-anchor="start" textLength="66.5" lengthAdjust="spacingAndGlyphs" class="b" >Dòng điện</text>
<rect x="565.4" y="513.4" width="152.0" height="27.2" fill="#98a4bc" opacity="0.7"/>
<rect x="566.0" y="514.0" width="150.8" height="25.8" fill="url(#gGauge)" />
<rect x="566.0" y="514.0" width="10.6" height="25.8" fill="url(#gGaugeCap)" />
<rect x="706.2" y="514.0" width="10.6" height="25.8" fill="url(#gGaugeCap)" />
<text x="641.9" y="527.2" font-size="15" fill="#0a0a0a" text-anchor="middle" class="m" >1.0</text>
<text x="577.2" y="538.2" font-size="9.3" fill="#111" text-anchor="middle" >0</text>
<rect x="576.8" y="539.2" width="0.8" height="2.8" fill="#5a6474" />
<text x="609.4" y="538.2" font-size="9.3" fill="#111" text-anchor="middle" >25</text>
<rect x="609.0" y="539.2" width="0.8" height="2.8" fill="#5a6474" />
<text x="641.5" y="538.2" font-size="9.3" fill="#111" text-anchor="middle" >50</text>
<rect x="641.1" y="539.2" width="0.8" height="2.8" fill="#5a6474" />
<text x="673.7" y="538.2" font-size="9.3" fill="#111" text-anchor="middle" >75</text>
<rect x="673.3" y="539.2" width="0.8" height="2.8" fill="#5a6474" />
<text x="705.8" y="538.2" font-size="9.3" fill="#111" text-anchor="middle" >100</text>
<rect x="705.4" y="539.2" width="0.8" height="2.8" fill="#5a6474" />
<text x="729.5" y="531.3" font-size="12.5" fill="#fff" text-anchor="start" textLength="13.5" lengthAdjust="spacingAndGlyphs" class="b" >[A]</text>
</g>
<!-- p70_labels -->
<rect x="69.6" y="231.0" width="47.8" height="34.0" fill="url(#gLbl)" stroke="#ffffff" stroke-width="1.3"/>
<text x="93.5" y="246.0" font-size="12.5" fill="#fff" text-anchor="middle" textLength="40.5" lengthAdjust="spacingAndGlyphs" >Van C.K</text>
<text x="93.5" y="261.5" font-size="12.5" fill="#fff" text-anchor="middle" textLength="13.5" lengthAdjust="spacingAndGlyphs" >#2</text>
<rect x="134.6" y="231.0" width="46.4" height="34.0" fill="url(#gLbl)" stroke="#ffffff" stroke-width="1.3"/>
<text x="157.8" y="246.0" font-size="12.5" fill="#fff" text-anchor="middle" textLength="40.5" lengthAdjust="spacingAndGlyphs" >Van C.K</text>
<text x="157.8" y="261.5" font-size="12.5" fill="#fff" text-anchor="middle" textLength="13.5" lengthAdjust="spacingAndGlyphs" >#1</text>
<rect x="79.6" y="364.6" width="95.8" height="18.8" fill="url(#gLbl)" stroke="#ffffff" stroke-width="1.3"/>
<text x="127.5" y="378.4" font-size="12.5" fill="#fff" text-anchor="middle" textLength="80.0" lengthAdjust="spacingAndGlyphs" >Khoang lọc bụi</text>
<rect x="284.1" y="425.9" width="83.3" height="20.1" fill="url(#gLbl)" stroke="#ffffff" stroke-width="1.3"/>
<text x="325.8" y="440.4" font-size="12.5" fill="#fff" text-anchor="middle" textLength="70.5" lengthAdjust="spacingAndGlyphs" >Tháp xử lý #1</text>
<rect x="382.6" y="425.9" width="82.6" height="20.1" fill="url(#gLbl)" stroke="#ffffff" stroke-width="1.3"/>
<text x="423.9" y="440.4" font-size="12.5" fill="#fff" text-anchor="middle" textLength="70.5" lengthAdjust="spacingAndGlyphs" >Tháp xử lý #2</text>
<rect x="676.6" y="184.6" width="67.5" height="21.6" fill="url(#gLbl)" stroke="#ffffff" stroke-width="1.3"/>
<text x="710.4" y="199.8" font-size="12.5" fill="#fff" text-anchor="middle" textLength="49.5" lengthAdjust="spacingAndGlyphs" >Ống khói</text>
<rect x="868.4" y="100.1" width="68.6" height="20.1" fill="url(#gLbl)" stroke="#ffffff" stroke-width="1.3"/>
<text x="902.7" y="114.6" font-size="12.5" fill="#fff" text-anchor="middle" textLength="61.5" lengthAdjust="spacingAndGlyphs" >Bể lắng cặn</text>
<rect x="904.6" y="199.9" width="67.6" height="20.7" fill="url(#gLbl)" stroke="#ffffff" stroke-width="1.3"/>
<text x="938.4" y="214.7" font-size="12.5" fill="#fff" text-anchor="middle" textLength="43.5" lengthAdjust="spacingAndGlyphs" >Bể nước</text>
<rect x="819.6" y="323.1" width="68.8" height="20.1" fill="url(#gLbl)" stroke="#ffffff" stroke-width="1.3"/>
<text x="854.0" y="337.5" font-size="12.5" fill="#fff" text-anchor="middle" textLength="34.5" lengthAdjust="spacingAndGlyphs" >Bơm 2</text>
<rect x="819.6" y="478.4" width="68.8" height="19.8" fill="url(#gLbl)" stroke="#ffffff" stroke-width="1.3"/>
<text x="854.0" y="492.7" font-size="12.5" fill="#fff" text-anchor="middle" textLength="34.5" lengthAdjust="spacingAndGlyphs" >Bơm 1</text>
<rect x="829.6" y="781.6" width="68.1" height="20.8" fill="url(#gLbl)" stroke="#ffffff" stroke-width="1.3"/>
<text x="863.6" y="796.4" font-size="12.5" fill="#fff" text-anchor="middle" textLength="34.5" lengthAdjust="spacingAndGlyphs" >Nhà xỉ</text>
<rect x="1391.6" y="161.1" width="83.8" height="20.0" fill="url(#gLbl)" stroke="#ffffff" stroke-width="1.3"/>
<text x="1433.5" y="175.5" font-size="12.5" fill="#fff" text-anchor="middle" textLength="74.5" lengthAdjust="spacingAndGlyphs" >Van xả đáy #2</text>
<rect x="1718.6" y="161.1" width="82.6" height="20.0" fill="url(#gLbl)" stroke="#ffffff" stroke-width="1.3"/>
<text x="1759.9" y="175.5" font-size="12.5" fill="#fff" text-anchor="middle" textLength="74.5" lengthAdjust="spacingAndGlyphs" >Van xả đáy #1</text>
<rect x="1343.6" y="934.6" width="82.8" height="20.3" fill="url(#gLbl)" stroke="#ffffff" stroke-width="1.3"/>
<text x="1385.0" y="949.1" font-size="12.5" fill="#fff" text-anchor="middle" textLength="74.5" lengthAdjust="spacingAndGlyphs" >Van xả đáy #2</text>
<rect x="1749.6" y="934.6" width="83.6" height="20.3" fill="url(#gLbl)" stroke="#ffffff" stroke-width="1.3"/>
<text x="1791.4" y="949.1" font-size="12.5" fill="#fff" text-anchor="middle" textLength="74.5" lengthAdjust="spacingAndGlyphs" >Van xả đáy #1</text>
<rect x="1058.6" y="139.6" width="85.8" height="31.4" fill="url(#gTealLbl)" stroke="#ffffff" stroke-width="1.3" stroke-opacity="0.92"/>
<text x="1101.5" y="160.7" font-size="15.5" fill="#e8fff4" text-anchor="middle" textLength="54.5" lengthAdjust="spacingAndGlyphs" class="b" >Khí nén</text>
<rect x="1745.2" y="108.1" width="154.8" height="30.9" fill="url(#gBlueLbl)" stroke="#ffffff" stroke-width="1.3" stroke-opacity="0.92"/>
<text x="1822.6" y="128.9" font-size="15.5" fill="#fff" text-anchor="middle" textLength="132.5" lengthAdjust="spacingAndGlyphs" class="b" >Đường khí sạch ra</text>
<rect x="1428.6" y="226.6" width="134.0" height="31.4" fill="url(#gGreenLbl)" stroke="#ffffff" stroke-width="1.3" stroke-opacity="0.92"/>
<text x="1495.6" y="247.7" font-size="15.5" fill="#dcfbd8" text-anchor="middle" textLength="118.5" lengthAdjust="spacingAndGlyphs" class="b" >Khoang khí sạch</text>
<rect x="1431.6" y="738.2" width="133.8" height="32.0" fill="url(#gOrLbl)" stroke="#ffffff" stroke-width="1.3" stroke-opacity="0.92"/>
<text x="1498.5" y="759.6" font-size="15.5" fill="#fff0e4" text-anchor="middle" textLength="114.0" lengthAdjust="spacingAndGlyphs" class="b" >Khoang khí bẩn</text>
<rect x="974.6" y="702.6" width="120.1" height="31.8" fill="url(#gOrLbl)" stroke="#ffffff" stroke-width="1.3" stroke-opacity="0.92"/>
<text x="1034.7" y="723.9" font-size="15.5" fill="#fff0e4" text-anchor="middle" textLength="106.0" lengthAdjust="spacingAndGlyphs" class="b" >Đường khí vào</text>
<path d="M999.5,554 L999.5,571.5 L1003.6,567.8 L1006.6,574.4 L1009,573.3 L1006.1,566.8 L1011.6,566.6 Z" fill="#ffffff" stroke="#111" stroke-width="1"/>
<!-- p80_taskbar -->
<rect x="0.0" y="1001.0" width="1918.6" height="32.0" fill="#f7f8fa" />
<rect x="0.0" y="1003.0" width="148.4" height="29.6" fill="url(#gDate)" />
<text x="11.0" y="1023.0" font-size="14.5" fill="#fff" text-anchor="start" textLength="126.5" lengthAdjust="spacingAndGlyphs" class="b" >2025/12/22 17:06:42</text>
<rect x="149.8" y="1003.0" width="88.2" height="29.6" fill="url(#gGw)" />
<rect x="239.2" y="1003.0" width="56.4" height="29.6" fill="url(#gGw)" />
<rect x="156.8" y="1010.2" width="13.8" height="4" rx="0.8" fill="#f4fbe6"/>
<rect x="158.3" y="1011.6" width="2.4" height="1.2" fill="#3a8a12"/>
<rect x="156.8" y="1015.2" width="13.8" height="4" rx="0.8" fill="#f4fbe6"/>
<rect x="158.3" y="1016.6" width="2.4" height="1.2" fill="#3a8a12"/>
<rect x="156.8" y="1020.2" width="13.8" height="4" rx="0.8" fill="#f4fbe6"/>
<rect x="158.3" y="1021.6" width="2.4" height="1.2" fill="#3a8a12"/>
<text x="176.0" y="1023.0" font-size="14.5" fill="#fff" text-anchor="start" textLength="54.5" lengthAdjust="spacingAndGlyphs" class="b" >Gateway</text>
<rect x="247.6" y="1010" width="10.4" height="10.4" rx="1" fill="#f4fbe6"/><rect x="252.2" y="1020.4" width="1.4" height="2.6" fill="#f4fbe6"/><rect x="245.7" y="1023" width="14.3" height="1.6" fill="#f4fbe6"/>
<text x="265.6" y="1023.0" font-size="14.5" fill="#fff" text-anchor="start" textLength="22.6" lengthAdjust="spacingAndGlyphs" class="b" >PLC</text>
<rect x="1734" y="1009.6" width="11" height="3.9" rx="0.8" fill="#4179b6"/>
<rect x="1735.2" y="1010.9" width="3" height="1.2" fill="#a8c8ea"/>
<rect x="1734" y="1014.3" width="11" height="3.9" rx="0.8" fill="#4179b6"/>
<rect x="1735.2" y="1015.5999999999999" width="3" height="1.2" fill="#a8c8ea"/>
<rect x="1734" y="1019" width="11" height="3.9" rx="0.8" fill="#4179b6"/>
<rect x="1735.2" y="1020.3" width="3" height="1.2" fill="#a8c8ea"/>
<path d="M1764.4,1011 q0,-1 1,-1 h4.6 l6,6.2 l-5.4,6 l-6.2,-6.4 z" fill="#4179b6"/><circle cx="1766.8" cy="1012.6" r="1" fill="#e8f0fa"/>
<path d="M1795,1021 q1.6,-1.2 1.6,-4.6 q0,-6 3.8,-6 q3.8,0 3.8,6 q0,3.4 1.6,4.6 z M1799,1021.6 h2.8 q-0.2,1.5 -1.4,1.5 q-1.2,0 -1.4,-1.5z" fill="#4179b6"/>
<g><path d="M1818,1012.6 l8.8,-5 l8.8,5 v9.6 l-8.8,4.8 l-8.8,-4.8 z" fill="#1f5fb6"/><path d="M1821,1012.2 l5.8,-4.6 l8.8,5 v5 l-4,2.4 l-6,-5.4 z" fill="#e0262c"/><path d="M1822,1016.6 l9.6,5.8 M1821.4,1019.2 l8.2,5 M1823,1014.6 l9.8,5.6" stroke="#ffffff" stroke-width="1.1" fill="none"/></g>
<text x="1838.3" y="1018.8" font-size="14" font-weight="bold" fill="#1565c0" stroke="#1565c0" stroke-width="0.5" textLength="75.4" lengthAdjust="spacingAndGlyphs">AN PHAT</text>
<text x="1845" y="1025.8" font-size="3.6" font-weight="bold" font-style="italic" fill="#e0262c" textLength="61.8" lengthAdjust="spacingAndGlyphs">AUTOMATION - TECHNOLOGY</text>
<rect x="0.0" y="1032.6" width="1918.6" height="46.8" fill="#1d1d1d" />
<rect x="20" y="1045" width="11" height="11" rx="0.8" fill="#34b4f0"/>
<rect x="32" y="1045" width="11" height="11" rx="0.8" fill="#34b4f0"/>
<rect x="20" y="1057" width="11" height="11" rx="0.8" fill="#34b4f0"/>
<rect x="32" y="1057" width="11" height="11" rx="0.8" fill="#34b4f0"/>
<rect x="56" y="1040" width="219.6" height="31.8" rx="15.9" fill="#3b3b3b"/>
<circle cx="74" cy="1054.6" r="5.6" fill="none" stroke="#f0f0f0" stroke-width="1.7"/><line x1="78.2" y1="1058.8" x2="82" y2="1062.6" stroke="#f0f0f0" stroke-width="1.9" stroke-linecap="round"/>
<text x="93.0" y="1061.0" font-size="14.5" fill="#d4d4d4" text-anchor="start" textLength="41.0" lengthAdjust="spacingAndGlyphs" >Search</text>
<g><ellipse cx="247.5" cy="1058" rx="25" ry="12.5" fill="#7a62a8"/><ellipse cx="247.5" cy="1065" rx="22" ry="5.6" fill="#2a7ec0"/><rect x="232" y="1053" width="32" height="9" fill="#b08a78"/>
<rect x="233" y="1053" width="3.6" height="8" fill="#e8c89a"/>
<rect x="238" y="1049" width="3.6" height="12" fill="#e8c89a"/>
<rect x="243" y="1052" width="3.6" height="9" fill="#e8c89a"/>
<rect x="248" y="1047" width="3.6" height="14" fill="#e8c89a"/>
<rect x="253" y="1051" width="3.6" height="10" fill="#e8c89a"/>
<rect x="258" y="1049" width="3.6" height="12" fill="#e8c89a"/>
<rect x="262" y="1054" width="3.6" height="7" fill="#e8c89a"/>
<rect x="232" y="1060" width="32" height="2.5" fill="#4a3a5e"/></g>
<g><path d="M288.5,1049 q0,-2.6 2.6,-2.6 h6 l2.4,2.6 h10.4 q2.4,0 2.4,2.4 v13.4 q0,2.2 -2.2,2.2 h-19.4 q-2.2,0 -2.2,-2.2 z" fill="#f0b429"/><path d="M288.5,1053 h23.8 v12.8 q0,2.2 -2.2,2.2 h-19.4 q-2.2,0 -2.2,-2.2 z" fill="#fcd354"/><rect x="293.5" y="1061" width="13.8" height="7" rx="1" fill="#1f78d8"/></g>
<g><circle cx="344" cy="1056" r="12" fill="#1b7fd6"/><path d="M332.6,1053 a12,12 0 0 1 23,-0.6 q-3.6,-5.6 -11.6,-4.6 q-7.8,1.2 -11.4,5.2z" fill="#3fd0b0"/><path d="M344,1051 q6.6,0 7.6,5 q-0.6,3.6 -5,3.6 h-6.4 q0.2,5 6.6,6.6 q-9.6,1 -12.4,-6.6 q0.6,-8 9.6,-8.6z" fill="#0c4a9e"/><path d="M340.6,1059.4 h6.4 q4.2,0 4.8,-3.2 q0.4,5.4 -4.2,6.4 q-5.2,0.4 -7,-3.2z" fill="#1d1d1d"/></g>
<g><rect x="376" y="1044.4" width="23.4" height="23.4" rx="4" fill="#f0261e"/><path d="M380,1051 l3,10 l3.4,-7.4 l3.4,7.4 l3,-10 l3,0" fill="none" stroke="#fff" stroke-width="2.4" stroke-linejoin="round"/><rect x="394" y="1042.6" width="7" height="7" rx="1.4" fill="#f7a066"/></g>
<g><circle cx="431" cy="1056.6" r="11.4" fill="#8cc63e"/><circle cx="431" cy="1056.6" r="5" fill="none" stroke="#e8f6c8" stroke-width="2"/><circle cx="440.6" cy="1047.2" r="6.6" fill="#f4f4f4"/><circle cx="435.6" cy="1042.6" r="2" fill="#222"/><circle cx="445.4" cy="1042.6" r="2" fill="#222"/><circle cx="438.4" cy="1047" r="1.5" fill="#222"/><circle cx="442.8" cy="1047" r="1.5" fill="#222"/></g>
<g><path d="M464,1050 l4.4,-2.2 l8.6,7.4 l7.2,-9.4 l4.6,2.2 v17.6 l-4.6,2.2 l-7.2,-9.2 l-8.6,7.2 l-4.4,-2.2 z" fill="#9a5be0"/><path d="M484.2,1045.8 l4.6,2.2 v17.6 l-4.6,2.2 z" fill="#c8a0f4"/><path d="M468.4,1052.6 v8.4 l4.6,-4.2z M484.2,1052 v9.6 l-5.6,-4.8z" fill="#1d1d1d"/></g>
<g><path d="M519,1044.6 h12 q3,0 3,3 v4.4 h-5.4 v-2 h-9.6 l-6,5.4 v-4.8 q0,-6 6,-6z" fill="#3fc4b4"/><path d="M520.6,1068.8 h-12 q-3,0 -3,-3 v-4.4 h5.4 v2 h9.6 l6,-5.4 v4.8 q0,6 -6,6z" fill="#1a8a98"/><path d="M526,1050 h8 v12 l-6,5.4 v-12z" fill="#2aa6a6"/><path d="M513,1063.4 h-7.4 v-12 l6,-5.4 v12z" fill="#248e9e"/></g>
<g><rect x="555" y="1044" width="17.6" height="24.6" rx="1.6" fill="#6c7a8a"/><rect x="557" y="1046" width="13.6" height="4.6" fill="#46b6ee"/>
<rect x="557.0" y="1052.0" width="4" height="4.4" fill="#d6dade"/>
<rect x="561.8" y="1052.0" width="4" height="4.4" fill="#d6dade"/>
<rect x="566.6" y="1052.0" width="4" height="4.4" fill="#d6dade"/>
<rect x="557.0" y="1057.2" width="4" height="4.4" fill="#d6dade"/>
<rect x="561.8" y="1057.2" width="4" height="4.4" fill="#d6dade"/>
<rect x="566.6" y="1057.2" width="4" height="4.4" fill="#1f5eb4"/>
<rect x="557.0" y="1062.4" width="4" height="4.4" fill="#d6dade"/>
<rect x="561.8" y="1062.4" width="4" height="4.4" fill="#d6dade"/>
<rect x="566.6" y="1062.4" width="4" height="4.4" fill="#1f5eb4"/>
</g>
<g><rect x="596" y="1046.4" width="24" height="19.4" rx="2" fill="#3a3a3a"/><rect x="596" y="1046.4" width="24" height="3.6" fill="#5a5a5a"/><path d="M600,1053.6 l4.4,3.6 l-4.4,3.6" fill="none" stroke="#f4f4f4" stroke-width="1.8"/><rect x="606.6" y="1060" width="7" height="1.8" fill="#f4f4f4"/></g>
<rect x="634" y="1036.4" width="37.6" height="40.6" rx="4" fill="#2e2e2e"/>
<rect x="640" y="1043.8" width="24" height="24" fill="#ffffff"/>
<text x="641" y="1063" font-size="17.5" font-weight="bold" font-style="italic" fill="#14296a" textLength="20.5" lengthAdjust="spacingAndGlyphs">LS</text>
<path d="M655,1047 l8,-1.4 l-4,3 z" fill="#e02a2e"/>
<rect x="644" y="1074.2" width="15.6" height="2.8" rx="1.4" fill="#36bde8"/>
<g><circle cx="695" cy="1056.6" r="7.6" fill="#f0483a"/><path d="M701,1049 a10.4,10.4 0 0 1 0,15.6" fill="none" stroke="#d8402e" stroke-width="1.6"/><circle cx="704.6" cy="1049.6" r="1" fill="#d8402e"/></g>
<rect x="297" y="1072.4" width="6" height="2.6" rx="1.3" fill="#8e8e8e"/>
<rect x="384.7" y="1072.4" width="6" height="2.6" rx="1.3" fill="#8e8e8e"/>
<rect x="428" y="1072.4" width="6" height="2.6" rx="1.3" fill="#8e8e8e"/>
<rect x="516.7" y="1072.4" width="6" height="2.6" rx="1.3" fill="#8e8e8e"/>
<rect x="604.6" y="1072.4" width="6" height="2.6" rx="1.3" fill="#8e8e8e"/>
<rect x="692.6" y="1072.4" width="6" height="2.6" rx="1.3" fill="#8e8e8e"/>
<path d="M1628,1058.6 l5,-5 l5,5" fill="none" stroke="#f2f2f2" stroke-width="1.7"/>
<g fill="none" stroke="#5cc4e8" stroke-width="1.3"><rect x="1662.2" y="1048.6" width="5.2" height="9.6" rx="2.6"/><path d="M1659.8,1055 q0,5 5,5 q5,0 5,-5 M1664.8,1060 v2.8"/></g>
<text x="1691.2" y="1061.5" font-size="12" fill="#f4f4f4" text-anchor="start" textLength="23.6" lengthAdjust="spacingAndGlyphs" >ENG</text>
<g fill="none" stroke="#f2f2f2" stroke-width="1.3"><path d="M1733,1052.6 q7.6,-6.6 15.2,0"/><path d="M1735.4,1055.6 q5.2,-4.6 10.4,0"/><path d="M1737.8,1058.6 q2.8,-2.4 5.6,0"/></g><circle cx="1740.6" cy="1061.4" r="1.2" fill="#f2f2f2"/>
<g fill="none" stroke="#f2f2f2" stroke-width="1.2"><path d="M1757.6,1053.6 h2.6 l3.6,-3.2 v11.6 l-3.6,-3.2 h-2.6 z"/><path d="M1766.6,1053.8 l4.4,4.4 M1771,1053.8 l-4.4,4.4"/></g>
<g fill="none" stroke="#f2f2f2" stroke-width="1.2"><rect x="1781.6" y="1051.6" width="13" height="8.6" rx="2"/><path d="M1796,1054.4 v3"/><path d="M1780.8,1049.4 l2.8,4.4 M1784.6,1049 v3.4"/></g><rect x="1783.4" y="1053.4" width="5.4" height="5" fill="#f2f2f2"/>
<text x="1875.0" y="1052.4" font-size="11.8" fill="#f4f4f4" text-anchor="end" textLength="42.6" lengthAdjust="spacingAndGlyphs" >5:06 PM</text>
<text x="1875.0" y="1068.8" font-size="11.8" fill="#f4f4f4" text-anchor="end" textLength="61.5" lengthAdjust="spacingAndGlyphs" >12/22/2025</text>
<g fill="none" stroke="#f2f2f2" stroke-width="1.2"><path d="M1886.4,1061 q1.2,-1.2 1.2,-4.6 q0,-4.4 3.8,-4.4 M1897,1058 q0,2 1,3 h-11.6"/><path d="M1890.4,1062.6 q1.6,1.8 3.2,0"/></g>
<text x="1893.2" y="1056.6" font-size="7.5" fill="#f2f2f2" text-anchor="start" font-weight="bold">z</text>
<text x="1896.2" y="1053.0" font-size="6.5" fill="#f2f2f2" text-anchor="start" font-weight="bold">z</text>
<rect x="1918.6" y="0.0" width="51.4" height="1096.0" fill="#ffffff" />
<rect x="1918.6" y="229.6" width="51.4" height="113.8" fill="#f3f5f9" />
<rect x="1918.6" y="343.0" width="51.4" height="1.0" fill="#dcdfe4" />
<path d="M1923,1180 z" />
<path d="M1923.4,180 q0,-1.4 1.4,-1.4 h7.6 q1.4,0 1.4,1.4 v13.6 q0,1.4 -1.4,1.4 h-7.6 q-1.4,0 -1.4,-1.4z" fill="#f6d36a"/><rect x="1923.4" y="180" width="3.2" height="14.6" fill="#fbe6a0"/>
<rect x="1945.4" y="178.0" width="1.0" height="18.0" fill="#9a9a9a" />
<rect x="1961" y="179" width="12" height="17" fill="#fff" stroke="#8a8a8a" stroke-width="1.1"/><path d="M1964.6,188 l2.6,2.8 l4,-4.6" stroke="#d8502a" stroke-width="1.6" fill="none"/>
<rect x="1918.6" y="202.6" width="51.4" height="27.0" fill="#a4501c" />
<text x="1944.0" y="220.6" font-size="12.5" fill="#fff" text-anchor="start" textLength="18.6" lengthAdjust="spacingAndGlyphs" >File</text>
<g transform="translate(1953,258) rotate(40)"><rect x="-3" y="-12" width="6" height="10" fill="#8c9096"/><rect x="-5.6" y="-3" width="11.2" height="3" fill="#8c9096"/><rect x="-0.8" y="0" width="1.6" height="11" fill="#8c9096"/><rect x="-4.6" y="-14" width="9.2" height="2.4" fill="#8c9096"/></g>
<text x="1927.8" y="295.2" font-size="12.5" fill="#2a2a2a" text-anchor="start" textLength="45.0" lengthAdjust="spacingAndGlyphs" >Pin to Q</text>
<text x="1943.0" y="312.0" font-size="12.5" fill="#2a2a2a" text-anchor="start" textLength="25.0" lengthAdjust="spacingAndGlyphs" >acce</text>
<path d="M1950,366.4 h-13.6 m5.2,-5 l-5.2,5 l5.2,5" fill="none" stroke="#c8c8c8" stroke-width="1.4"/>
<rect x="1918.6" y="409.0" width="51.4" height="28.8" fill="#d9d9d9" />
<path d="M1961,415 l2.4,5.6 l6,0.4 l-4.6,4 l1.4,6 l-5.2,-3.2 l-5.2,3.2 l1.4,-6 l-4.6,-4 l6,-0.4z" fill="#2f8fe8"/>
<rect x="1959" y="447" width="11" height="12" fill="#1f7fe0"/>
<path d="M1964,477 h6 v8 h-6 z M1960,484 h10 v1 l-4,6 z" fill="#1f6fd8"/>
<rect x="1959" y="506" width="11" height="12" fill="#8aa0c0"/>
<rect x="1959" y="537" width="11" height="12" fill="#6a98c0"/>
<rect x="1964.6" y="565" width="6" height="14" fill="#f6d36a"/>
<rect x="1964.6" y="595" width="6" height="14" fill="#f6d36a"/>
<rect x="1964.6" y="625" width="6" height="14" fill="#f6d36a"/>
<rect x="1964.6" y="655" width="6" height="14" fill="#f6d36a"/>
<path d="M1956,702 l12,-5 l2,0 v10 l-12,4 z" fill="#5a9ad8"/><rect x="1952" y="707" width="12" height="2.4" fill="#9aa"/>
<rect x="1959" y="727" width="11" height="12" fill="#36c0d8"/>
<rect x="1959" y="757" width="11" height="12" fill="#1f7fe0"/>
<rect x="1959" y="787" width="11" height="12" fill="#8aa0c0"/>
<path d="M1964,816 h6 v8 h-6 z M1960,823 h10 v1 l-4,6 z" fill="#1f6fd8"/>
<path d="M1966,844 h2 v13 a3,3 0 1 1 -2,-2.8z" fill="#1f7fe0"/>
<rect x="1959" y="876" width="11" height="12" fill="#6a98c0"/>
<rect x="1959" y="906" width="11" height="12" fill="#5a5a7a"/>
<rect x="1959" y="937" width="11" height="12" fill="#1fa0e0"/>
<rect x="1958" y="974" width="12" height="3" fill="#5a5a5a" transform="rotate(15 1964 975)"/>
<path d="M1956,1012 l12,-5 l2,0 v10 l-12,4 z" fill="#3a8ad8"/><rect x="1952" y="1017" width="12" height="2.4" fill="#9aa"/>
</svg>
</body></html>
